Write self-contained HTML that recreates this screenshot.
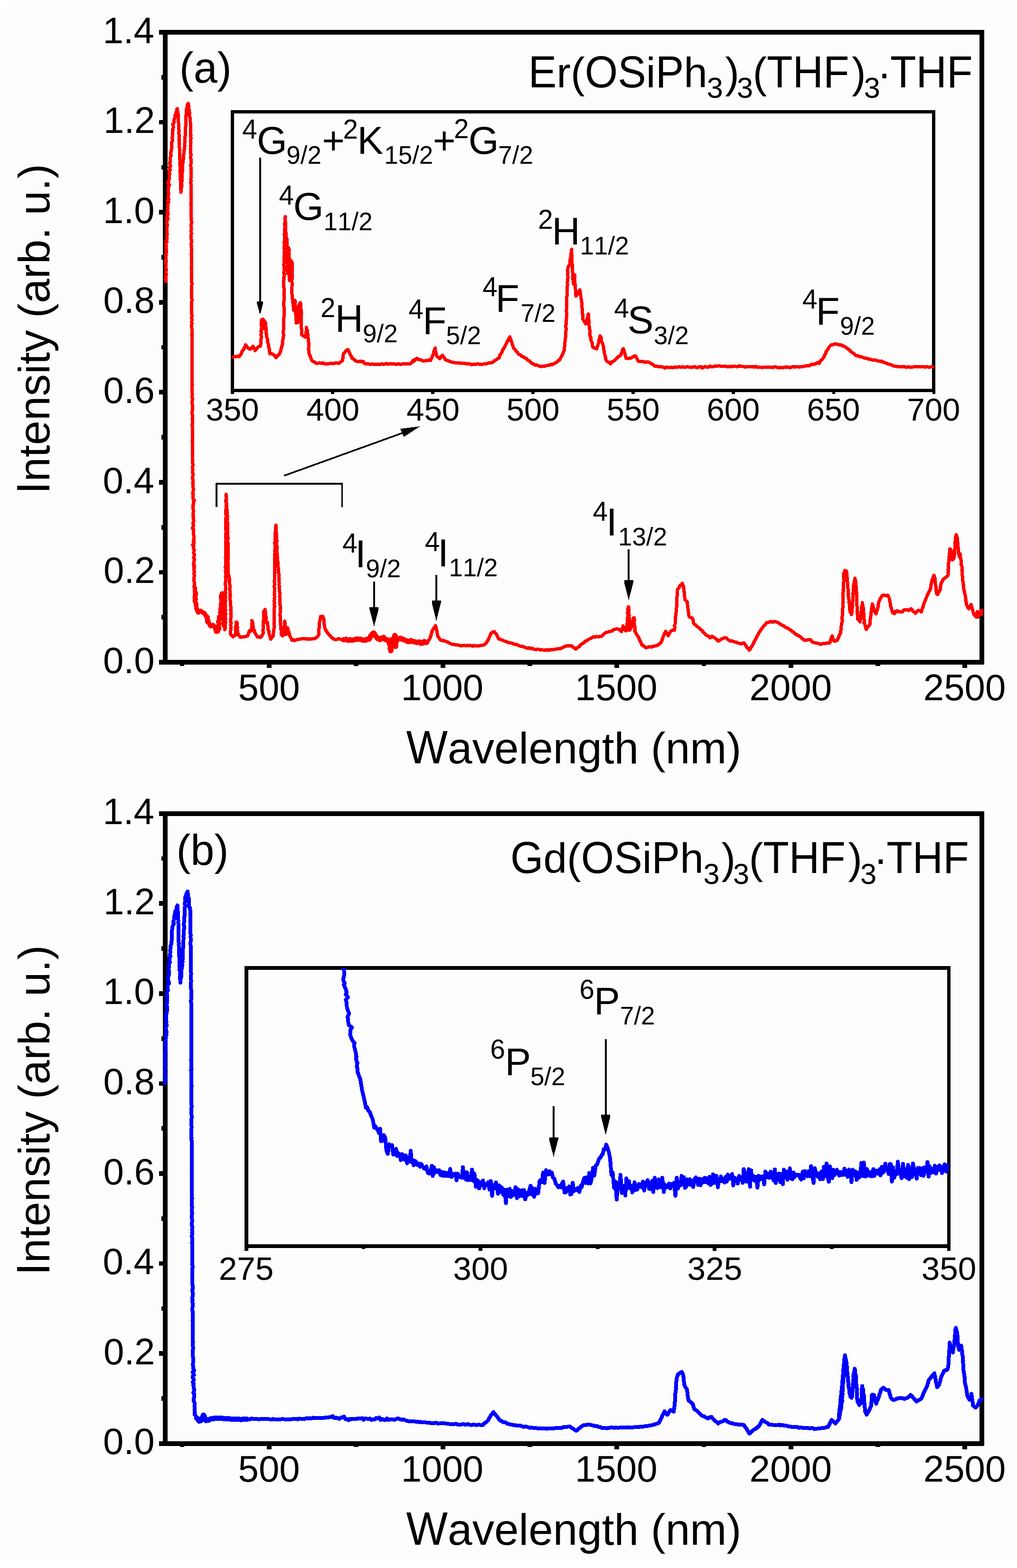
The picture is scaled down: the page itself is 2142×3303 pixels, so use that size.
<!DOCTYPE html>
<html><head><meta charset="utf-8"><title>Absorption spectra</title>
<style>html,body{margin:0;padding:0;background:#ffffff;}svg{display:block;}</style>
</head><body>
<svg width="2142" height="3303" viewBox="0 0 2142 3303" font-family="'Liberation Sans', Arial, Helvetica, sans-serif" shape-rendering="crispEdges" style="font-kerning:none">
<rect x="0" y="0" width="2142" height="3303" fill="#ffffff"/>
<rect x="6" y="12" width="2136" height="3272" fill="#fdfdfd"/>
<rect x="347.75" y="68.00" width="1720.55" height="1327.00" fill="none" stroke="#000" stroke-width="9.7"/>
<rect x="335.1" y="1390.2" width="12.6" height="9.7" fill="#000"/>
<text x="217.1" y="1417.6" font-size="78">0.0</text>
<rect x="340.3" y="1295.4" width="7.4" height="9.7" fill="#000"/>
<rect x="335.1" y="1200.6" width="12.6" height="9.7" fill="#000"/>
<text x="218.0" y="1228.0" font-size="78">0.2</text>
<rect x="340.3" y="1105.8" width="7.4" height="9.7" fill="#000"/>
<rect x="335.1" y="1011.0" width="12.6" height="9.7" fill="#000"/>
<text x="216.4" y="1038.5" font-size="78">0.4</text>
<rect x="340.3" y="916.2" width="7.4" height="9.7" fill="#000"/>
<rect x="335.1" y="821.4" width="12.6" height="9.7" fill="#000"/>
<text x="217.5" y="848.9" font-size="78">0.6</text>
<rect x="340.3" y="726.6" width="7.4" height="9.7" fill="#000"/>
<rect x="335.1" y="631.9" width="12.6" height="9.7" fill="#000"/>
<text x="217.5" y="659.3" font-size="78">0.8</text>
<rect x="340.3" y="537.1" width="7.4" height="9.7" fill="#000"/>
<rect x="335.1" y="442.3" width="12.6" height="9.7" fill="#000"/>
<text x="217.1" y="469.7" font-size="78">1.0</text>
<rect x="340.3" y="347.5" width="7.4" height="9.7" fill="#000"/>
<rect x="335.1" y="252.7" width="12.6" height="9.7" fill="#000"/>
<text x="218.0" y="280.2" font-size="78">1.2</text>
<rect x="340.3" y="157.9" width="7.4" height="9.7" fill="#000"/>
<rect x="335.1" y="63.1" width="12.6" height="9.7" fill="#000"/>
<text x="216.4" y="90.6" font-size="78">1.4</text>
<rect x="378.5" y="1395.0" width="9.8" height="7.6" fill="#000"/>
<rect x="561.7" y="1395.0" width="9.8" height="11.8" fill="#000"/>
<text x="501.5" y="1475.3" font-size="78">500</text>
<rect x="744.9" y="1395.0" width="9.8" height="7.6" fill="#000"/>
<rect x="928.1" y="1395.0" width="9.8" height="11.8" fill="#000"/>
<text x="844.7" y="1475.3" font-size="78">1000</text>
<rect x="1111.2" y="1395.0" width="9.8" height="7.6" fill="#000"/>
<rect x="1294.4" y="1395.0" width="9.8" height="11.8" fill="#000"/>
<text x="1211.1" y="1475.3" font-size="78">1500</text>
<rect x="1477.6" y="1395.0" width="9.8" height="7.6" fill="#000"/>
<rect x="1660.8" y="1395.0" width="9.8" height="11.8" fill="#000"/>
<text x="1578.5" y="1475.3" font-size="78">2000</text>
<rect x="1843.9" y="1395.0" width="9.8" height="7.6" fill="#000"/>
<rect x="2027.1" y="1395.0" width="9.8" height="11.8" fill="#000"/>
<text x="1944.8" y="1475.3" font-size="78">2500</text>
<text transform="translate(855.6,1607.8) scale(1,1.06)" x="0" y="0" font-size="92.7">W</text>
<text x="943.1" y="1607.8" font-size="92.7">avelength (nm)</text>
<g transform="translate(104.2,1032.0) rotate(-90)">
<text transform="translate(-8.6,0.0) scale(1,1.055)" x="0" y="0" font-size="92.7">I</text>
<text x="17.2" y="0.0" font-size="92.7">ntensity (arb. u.)</text>
</g>
<rect x="347.75" y="1713.70" width="1720.55" height="1327.00" fill="none" stroke="#000" stroke-width="9.7"/>
<rect x="335.1" y="3035.8" width="12.6" height="9.7" fill="#000"/>
<text x="217.1" y="3063.3" font-size="78">0.0</text>
<rect x="340.3" y="2941.1" width="7.4" height="9.7" fill="#000"/>
<rect x="335.1" y="2846.3" width="12.6" height="9.7" fill="#000"/>
<text x="218.0" y="2873.7" font-size="78">0.2</text>
<rect x="340.3" y="2751.5" width="7.4" height="9.7" fill="#000"/>
<rect x="335.1" y="2656.7" width="12.6" height="9.7" fill="#000"/>
<text x="216.4" y="2684.2" font-size="78">0.4</text>
<rect x="340.3" y="2561.9" width="7.4" height="9.7" fill="#000"/>
<rect x="335.1" y="2467.1" width="12.6" height="9.7" fill="#000"/>
<text x="217.5" y="2494.6" font-size="78">0.6</text>
<rect x="340.3" y="2372.3" width="7.4" height="9.7" fill="#000"/>
<rect x="335.1" y="2277.6" width="12.6" height="9.7" fill="#000"/>
<text x="217.5" y="2305.0" font-size="78">0.8</text>
<rect x="340.3" y="2182.8" width="7.4" height="9.7" fill="#000"/>
<rect x="335.1" y="2088.0" width="12.6" height="9.7" fill="#000"/>
<text x="217.1" y="2115.4" font-size="78">1.0</text>
<rect x="340.3" y="1993.2" width="7.4" height="9.7" fill="#000"/>
<rect x="335.1" y="1898.4" width="12.6" height="9.7" fill="#000"/>
<text x="218.0" y="1925.9" font-size="78">1.2</text>
<rect x="340.3" y="1803.6" width="7.4" height="9.7" fill="#000"/>
<rect x="335.1" y="1708.8" width="12.6" height="9.7" fill="#000"/>
<text x="216.4" y="1736.3" font-size="78">1.4</text>
<rect x="378.5" y="3040.7" width="9.8" height="7.7" fill="#000"/>
<rect x="561.7" y="3040.7" width="9.8" height="11.8" fill="#000"/>
<text x="501.5" y="3121.0" font-size="78">500</text>
<rect x="744.9" y="3040.7" width="9.8" height="7.7" fill="#000"/>
<rect x="928.1" y="3040.7" width="9.8" height="11.8" fill="#000"/>
<text x="844.7" y="3121.0" font-size="78">1000</text>
<rect x="1111.2" y="3040.7" width="9.8" height="7.7" fill="#000"/>
<rect x="1294.4" y="3040.7" width="9.8" height="11.8" fill="#000"/>
<text x="1211.1" y="3121.0" font-size="78">1500</text>
<rect x="1477.6" y="3040.7" width="9.8" height="7.7" fill="#000"/>
<rect x="1660.8" y="3040.7" width="9.8" height="11.8" fill="#000"/>
<text x="1578.5" y="3121.0" font-size="78">2000</text>
<rect x="1843.9" y="3040.7" width="9.8" height="7.7" fill="#000"/>
<rect x="2027.1" y="3040.7" width="9.8" height="11.8" fill="#000"/>
<text x="1944.8" y="3121.0" font-size="78">2500</text>
<text transform="translate(855.6,3253.5) scale(1,1.06)" x="0" y="0" font-size="92.7">W</text>
<text x="943.1" y="3253.5" font-size="92.7">avelength (nm)</text>
<g transform="translate(104.2,2677.7) rotate(-90)">
<text transform="translate(-8.6,0.0) scale(1,1.055)" x="0" y="0" font-size="92.7">I</text>
<text x="17.2" y="0.0" font-size="92.7">ntensity (arb. u.)</text>
</g>
<text x="377.8" y="174.1" font-size="90">(a)</text>
<text x="371.4" y="1821.5" font-size="90">(b)</text>
<text transform="translate(1112.8,183.6) scale(1,1.055)" x="0" y="0" font-size="89.3">E</text>
<text x="1172.3" y="183.6" font-size="89.3">r(</text>
<text transform="translate(1231.8,183.6) scale(1,1.055)" x="0" y="0" font-size="89.3">O</text>
<text transform="translate(1301.3,183.6) scale(1,1.055)" x="0" y="0" font-size="89.3">S</text>
<text x="1360.8" y="183.6" font-size="89.3">i</text>
<text transform="translate(1380.7,183.6) scale(1,1.055)" x="0" y="0" font-size="89.3">P</text>
<text x="1440.2" y="183.6" font-size="89.3">h</text>
<text x="1488.8" y="206.2" font-size="61.3">3</text>
<text x="1527.2" y="183.6" font-size="89.3">)</text>
<text x="1552.0" y="206.2" font-size="61.3">3</text>
<text x="1585.4" y="183.6" font-size="89.3">(</text>
<text transform="translate(1615.1,183.6) scale(1,1.055)" x="0" y="0" font-size="89.3">T</text>
<text transform="translate(1669.6,183.6) scale(1,1.055)" x="0" y="0" font-size="89.3">H</text>
<text transform="translate(1734.1,183.6) scale(1,1.055)" x="0" y="0" font-size="89.3">F</text>
<text x="1794.1" y="183.6" font-size="89.3">)</text>
<text x="1819.7" y="206.2" font-size="61.3">3</text>
<text x="1847.8" y="183.6" font-size="89.3">·</text>
<text transform="translate(1875.1,183.6) scale(1,1.055)" x="0" y="0" font-size="89.3">T</text>
<text transform="translate(1929.6,183.6) scale(1,1.055)" x="0" y="0" font-size="89.3">H</text>
<text transform="translate(1994.1,183.6) scale(1,1.055)" x="0" y="0" font-size="89.3">F</text>
<text transform="translate(1074.9,1838.6) scale(1,1.055)" x="0" y="0" font-size="89.3">G</text>
<text x="1144.4" y="1838.6" font-size="89.3">d(</text>
<text transform="translate(1223.8,1838.6) scale(1,1.055)" x="0" y="0" font-size="89.3">O</text>
<text transform="translate(1293.2,1838.6) scale(1,1.055)" x="0" y="0" font-size="89.3">S</text>
<text x="1352.8" y="1838.6" font-size="89.3">i</text>
<text transform="translate(1372.6,1838.6) scale(1,1.055)" x="0" y="0" font-size="89.3">P</text>
<text x="1432.2" y="1838.6" font-size="89.3">h</text>
<text x="1481.5" y="1862.1" font-size="61.3">3</text>
<text x="1519.4" y="1838.6" font-size="89.3">)</text>
<text x="1543.9" y="1862.1" font-size="61.3">3</text>
<text x="1577.6" y="1838.6" font-size="89.3">(</text>
<text transform="translate(1607.3,1838.6) scale(1,1.055)" x="0" y="0" font-size="89.3">T</text>
<text transform="translate(1661.8,1838.6) scale(1,1.055)" x="0" y="0" font-size="89.3">H</text>
<text transform="translate(1726.3,1838.6) scale(1,1.055)" x="0" y="0" font-size="89.3">F</text>
<text x="1786.3" y="1838.6" font-size="89.3">)</text>
<text x="1811.9" y="1862.1" font-size="61.3">3</text>
<text x="1840.0" y="1838.6" font-size="89.3">·</text>
<text transform="translate(1867.3,1838.6) scale(1,1.055)" x="0" y="0" font-size="89.3">T</text>
<text transform="translate(1921.8,1838.6) scale(1,1.055)" x="0" y="0" font-size="89.3">H</text>
<text transform="translate(1986.3,1838.6) scale(1,1.055)" x="0" y="0" font-size="89.3">F</text>
<polyline points="349.1,593.0 350.0,590.5 348.4,588.0 349.9,585.4 349.0,582.9 349.1,580.4 350.7,577.9 349.5,575.4 349.4,572.9 350.0,570.3 350.3,567.8 349.5,565.3 350.0,562.8 349.0,560.3 349.5,557.8 349.5,555.2 348.9,552.7 348.8,550.2 348.8,547.7 349.8,545.2 349.9,542.7 349.9,540.1 350.2,537.6 349.2,535.1 350.2,532.6 350.5,530.1 350.9,527.6 349.8,525.0 350.2,522.5 349.0,520.0 350.2,517.5 349.1,514.9 349.7,512.4 351.6,509.8 349.4,507.3 351.6,504.8 351.3,502.2 351.0,499.7 351.6,497.1 351.8,494.6 352.2,492.0 351.4,489.5 351.2,487.0 351.3,484.4 351.1,481.9 351.9,479.3 351.4,476.8 352.8,474.2 350.8,471.7 351.5,469.2 351.7,466.6 350.9,464.1 353.9,461.5 350.9,459.0 352.5,456.4 352.4,453.9 354.1,451.3 351.6,448.7 353.9,446.2 352.7,443.6 353.2,441.0 353.0,438.5 354.0,435.9 352.8,433.3 353.7,430.8 354.1,428.2 355.3,425.7 352.3,423.1 355.3,420.5 355.0,418.0 354.0,415.4 354.7,412.8 354.2,410.3 355.9,407.7 354.9,405.1 354.7,402.6 354.8,400.0 355.0,397.4 355.1,394.8 354.7,392.1 357.0,389.5 354.2,386.9 353.2,384.2 355.8,381.6 355.9,379.0 356.4,376.4 356.1,373.8 356.3,371.1 356.7,368.5 357.3,365.9 356.4,363.2 356.6,360.6 358.4,358.0 357.6,355.5 356.7,352.9 359.4,350.4 358.5,347.8 357.7,345.3 357.5,342.7 358.8,340.2 358.2,337.6 358.3,335.1 358.3,332.5 359.1,330.0 360.5,327.2 359.7,324.4 359.2,321.6 361.0,318.8 360.8,316.0 361.6,313.2 362.1,310.4 361.4,307.6 361.6,305.1 361.9,302.6 361.4,300.1 362.9,297.6 363.6,295.1 363.0,292.5 362.9,290.0 363.1,287.5 363.0,285.0 363.2,282.5 363.7,280.0 363.6,277.4 364.1,274.9 363.5,272.3 365.1,269.8 365.1,267.2 364.5,264.7 363.9,262.1 365.8,259.6 366.8,257.0 366.5,253.5 367.7,250.0 368.1,247.5 369.5,245.0 368.8,242.5 370.7,240.0 370.4,237.0 372.0,234.0 372.0,231.0 373.5,229.0 373.5,231.8 374.1,234.5 374.6,237.2 375.2,240.0 375.2,242.5 375.0,245.0 375.5,247.5 375.8,250.0 375.6,252.5 375.6,255.0 375.8,257.5 376.2,260.0 376.3,262.5 376.0,265.0 376.5,267.5 376.4,270.0 376.4,272.5 377.1,275.0 377.0,277.5 376.7,280.0 377.0,282.5 377.2,285.0 377.0,287.5 377.2,290.0 377.5,292.5 376.9,295.0 377.6,297.5 377.8,300.0 377.9,302.5 377.4,305.0 378.0,307.5 377.7,310.0 378.2,312.5 378.3,315.0 378.3,317.5 378.1,320.0 378.2,322.5 378.7,325.0 378.3,327.5 378.7,330.0 378.8,332.5 378.7,335.0 379.5,337.5 378.9,340.0 379.6,342.5 378.4,345.0 378.5,347.5 379.5,350.0 379.5,352.5 379.3,355.0 379.4,357.5 378.9,360.0 379.4,362.5 379.4,365.0 379.7,367.5 380.1,370.0 379.9,372.5 380.1,375.0 379.9,377.5 380.0,380.0 380.3,382.5 380.2,385.0 380.8,387.5 380.2,390.0 381.2,392.5 380.4,395.0 381.1,397.5 380.6,400.0 381.4,402.5 381.0,405.0 381.5,402.5 382.0,400.0 381.9,397.5 382.2,395.0 382.0,392.5 383.1,390.0 382.6,387.5 382.8,385.0 383.0,382.5 383.7,380.0 382.7,377.5 383.4,375.0 383.3,372.5 383.7,370.0 383.1,367.5 383.7,365.0 384.1,362.5 384.5,360.0 384.7,357.5 384.2,355.0 384.6,352.5 384.8,350.0 384.6,347.5 384.8,345.0 385.7,342.5 385.7,340.0 385.8,337.5 386.4,335.0 386.0,332.5 386.7,330.0 386.7,327.5 387.0,325.0 387.4,322.5 387.5,320.0 387.8,317.6 388.0,315.1 388.8,312.6 388.4,310.1 389.0,307.6 389.0,305.1 388.9,302.6 389.4,300.1 389.0,297.6 389.7,295.1 389.3,292.6 389.5,290.0 389.9,287.5 390.2,285.0 390.4,282.5 390.5,280.0 390.3,277.5 390.2,275.0 390.8,272.5 390.8,270.0 390.6,267.5 391.3,265.0 391.2,262.5 391.0,260.0 391.5,257.5 391.1,255.0 391.4,252.5 391.9,250.0 391.4,247.5 392.0,245.0 391.8,242.3 392.6,239.6 392.4,236.9 392.9,234.1 392.6,231.4 393.2,228.7 393.8,226.0 394.4,223.0 395.0,219.1 396.6,218.0 397.0,220.5 397.0,223.0 398.0,225.5 397.7,228.0 398.2,230.8 398.8,233.7 399.1,236.5 399.4,239.3 398.9,242.2 399.0,245.0 400.1,248.0 400.0,251.0 400.8,254.0 400.9,257.0 401.6,259.5 401.6,262.1 401.6,264.6 401.4,267.1 401.5,269.6 401.4,272.2 401.6,274.7 401.6,277.2 401.7,279.8 401.5,282.3 402.2,284.8 401.7,287.4 402.1,289.9 402.1,292.4 401.5,294.9 401.3,297.5 402.2,300.0 401.7,302.5 401.9,305.0 401.8,307.6 401.9,310.1 401.5,312.6 401.9,315.1 401.8,317.7 401.9,320.2 401.3,322.7 402.2,325.2 402.1,327.7 401.5,330.3 401.8,332.8 402.1,335.3 402.2,337.8 402.1,340.3 402.5,342.9 402.1,345.4 401.8,347.9 401.9,350.4 402.4,353.0 402.0,355.5 402.5,358.0 402.5,360.6 402.4,363.1 402.6,365.6 402.2,368.2 402.3,370.8 402.1,373.3 402.1,375.9 401.9,378.4 402.2,380.9 402.0,383.5 401.9,386.1 402.4,388.6 402.5,391.1 402.3,393.7 402.8,396.2 402.7,398.8 402.8,401.4 402.3,403.9 402.0,406.4 402.7,409.0 402.6,411.6 402.7,414.1 402.7,416.6 402.9,419.2 402.5,421.8 402.8,424.3 402.3,426.9 401.9,429.4 402.5,431.9 403.1,434.5 402.2,437.1 403.0,439.6 402.5,442.1 402.6,444.7 402.7,447.2 402.8,449.8 402.5,452.4 402.8,454.9 402.9,457.4 403.1,460.0 402.6,462.5 403.3,465.0 403.4,467.5 403.6,470.0 402.5,472.5 402.9,475.0 402.3,477.5 403.0,480.0 403.1,482.5 402.6,485.0 402.5,487.5 403.0,490.0 403.2,492.5 402.7,495.0 402.9,497.5 402.2,500.0 402.8,502.5 403.1,505.0 403.1,507.5 403.5,510.0 402.7,512.5 402.4,515.0 403.2,517.5 402.9,520.0 403.2,522.5 403.3,525.0 403.3,527.5 403.6,530.0 403.6,532.5 402.7,535.0 403.2,537.5 403.8,540.0 403.1,542.5 403.5,545.0 403.2,547.5 403.1,550.0 403.7,552.5 403.6,555.0 403.2,557.5 403.6,560.0 402.9,562.5 403.1,565.0 403.6,567.5 403.4,570.1 403.1,572.6 403.5,575.1 403.5,577.6 403.8,580.1 403.7,582.6 403.4,585.2 403.3,587.7 403.5,590.2 403.4,592.7 404.0,595.2 404.0,597.8 404.0,600.3 403.7,602.8 403.5,605.3 403.9,607.8 403.5,610.3 403.7,612.9 403.2,615.4 403.6,617.9 404.1,620.4 403.4,622.9 403.3,625.4 403.7,628.0 404.3,630.5 404.2,633.0 403.7,635.5 403.7,638.0 403.8,640.5 403.6,643.0 403.9,645.6 403.8,648.1 403.5,650.6 403.7,653.1 403.9,655.6 403.7,658.1 403.6,660.7 404.3,663.2 404.6,665.7 403.9,668.2 403.9,670.7 404.2,673.2 404.0,675.8 403.8,678.3 404.5,680.8 403.8,683.3 403.9,685.8 404.0,688.4 403.9,690.9 404.1,693.4 404.4,695.9 404.6,698.4 404.4,700.9 404.3,703.5 403.9,706.0 404.3,708.5 404.0,711.0 404.3,713.5 404.6,716.1 404.4,718.6 404.3,721.1 404.1,723.7 404.4,726.2 404.4,728.7 404.1,731.3 404.3,733.8 404.7,736.3 404.0,738.9 404.3,741.4 404.1,743.9 405.0,746.5 404.7,749.0 404.7,751.5 404.7,754.0 404.6,756.6 404.7,759.1 404.1,761.6 404.7,764.2 404.8,766.7 404.2,769.2 404.9,771.8 404.9,774.3 404.2,776.8 404.6,779.4 404.6,781.9 404.6,784.4 404.9,787.0 404.4,789.5 404.7,792.0 404.8,794.6 405.0,797.1 404.8,799.6 404.7,802.2 405.0,804.7 404.3,807.2 405.1,809.8 404.8,812.3 404.5,814.8 404.8,817.4 404.4,819.9 404.3,822.4 404.9,825.0 404.7,827.5 405.2,830.0 404.7,832.5 404.6,835.1 404.7,837.6 405.6,840.1 405.1,842.7 404.9,845.2 404.8,847.7 404.8,850.3 405.1,852.8 405.3,855.3 405.5,857.9 405.5,860.4 405.3,862.9 405.0,865.5 404.9,868.0 404.5,870.5 404.9,873.1 405.4,875.6 405.2,878.2 405.4,880.7 404.9,883.2 405.6,885.8 405.4,888.3 405.4,890.8 405.5,893.4 404.7,895.9 405.2,898.5 405.1,901.0 406.0,903.5 405.4,906.1 405.3,908.6 405.7,911.2 405.2,913.7 405.9,916.2 405.3,918.8 405.5,921.3 405.3,923.8 405.8,926.4 404.9,928.9 405.8,931.5 405.4,934.0 405.6,936.5 405.3,939.1 405.7,941.6 405.7,944.2 405.9,946.7 405.8,949.2 405.9,951.8 406.0,954.3 405.6,956.8 405.4,959.4 405.4,961.9 406.0,964.5 405.7,967.0 406.1,969.5 405.8,972.1 405.5,974.6 406.1,977.2 406.5,979.7 405.8,982.2 405.6,984.8 405.7,987.3 406.2,989.8 405.8,992.4 405.8,994.9 406.2,997.5 406.0,1000.0 406.2,1002.6 405.6,1005.2 405.5,1007.8 406.4,1010.4 406.4,1013.0 406.9,1015.6 405.9,1018.1 406.7,1020.7 406.9,1023.3 406.6,1025.9 407.1,1028.5 407.6,1031.1 406.9,1033.7 406.8,1036.3 405.8,1038.9 407.1,1041.5 406.8,1044.1 406.6,1046.6 406.1,1049.1 407.5,1051.7 409.4,1054.2 407.4,1056.7 407.1,1059.3 407.5,1061.8 406.5,1064.3 407.2,1066.9 406.5,1069.4 406.5,1071.9 407.4,1074.5 407.4,1077.0 407.1,1079.5 406.5,1082.1 407.5,1084.6 406.2,1087.1 408.0,1089.7 407.0,1092.2 407.4,1094.7 408.1,1097.3 407.9,1099.8 406.2,1102.3 407.2,1104.9 407.8,1107.4 406.5,1109.9 405.2,1112.5 407.5,1115.0 407.5,1117.5 408.0,1120.1 407.7,1122.6 407.8,1125.1 407.9,1127.7 409.0,1130.2 408.2,1132.7 408.3,1135.3 407.4,1137.8 408.9,1140.3 407.6,1142.9 408.5,1145.4 405.8,1147.9 408.1,1150.5 407.8,1153.0 407.5,1155.5 409.2,1158.0 408.4,1160.5 408.0,1163.0 407.6,1165.5 410.0,1168.0 409.0,1170.5 408.9,1173.0 407.6,1175.5 409.7,1178.0 409.0,1180.5 408.3,1183.0 408.5,1185.5 407.1,1188.0 409.3,1190.5 407.7,1193.0 409.6,1195.5 408.4,1198.0 408.3,1200.5 409.3,1203.0 409.2,1205.5 408.0,1208.0 409.1,1210.5 409.8,1213.0 409.0,1215.5 408.0,1218.0 409.1,1220.5 408.5,1223.0 408.9,1225.5 409.6,1228.1 409.7,1230.7 409.6,1233.3 408.3,1235.9 410.4,1238.5 410.0,1241.1 409.9,1243.7 410.5,1246.3 412.3,1248.9 409.4,1251.5 409.2,1254.1 411.6,1256.6 410.2,1259.2 412.3,1261.8 410.2,1264.4 410.8,1267.0 412.5,1269.6 413.0,1272.2 413.0,1274.8 413.5,1277.4 413.3,1280.0 413.9,1281.9 415.2,1284.4 416.5,1288.9 417.8,1290.2 420.4,1287.8 423.0,1287.0 425.5,1289.1 428.1,1290.9 430.1,1291.4 432.0,1294.2 433.6,1297.3 437.1,1300.3 436.1,1303.3 438.1,1306.2 436.4,1309.1 439.6,1312.1 439.8,1312.7 441.7,1315.8 443.7,1319.1 446.3,1318.0 448.9,1316.6 450.8,1318.8 453.0,1320.2 453.6,1323.4 455.4,1330.8 459.1,1329.7 459.7,1327.1 461.4,1324.4 460.7,1321.7 460.7,1319.0 460.9,1316.3 462.6,1313.4 460.0,1310.6 460.4,1307.7 461.7,1304.9 461.8,1298.8 463.7,1303.3 465.6,1300.8 464.2,1298.2 465.0,1295.7 465.6,1293.2 463.9,1290.7 465.4,1288.1 464.7,1285.6 464.4,1283.1 465.3,1280.5 465.6,1278.0 465.4,1275.5 465.3,1272.9 466.9,1270.4 467.3,1267.9 466.8,1265.3 466.3,1262.8 465.5,1260.3 465.9,1257.8 465.7,1255.2 467.1,1252.7 467.9,1250.2 468.0,1252.7 467.2,1255.2 467.0,1257.7 467.7,1260.2 467.8,1262.7 468.3,1265.3 469.3,1267.8 467.4,1270.3 470.1,1272.8 466.2,1275.3 466.7,1277.8 467.0,1280.4 467.6,1282.9 468.5,1285.4 470.8,1287.9 468.3,1290.4 470.1,1292.9 468.9,1295.5 469.6,1298.1 468.7,1300.7 472.0,1303.3 470.0,1305.9 470.0,1308.5 471.0,1311.1 470.6,1313.7 470.9,1316.3 470.9,1318.9 470.7,1316.3 470.6,1313.8 471.0,1311.2 471.6,1308.7 471.3,1306.2 471.2,1303.6 471.6,1301.1 471.1,1298.5 471.8,1296.0 471.4,1293.5 471.2,1290.9 471.7,1288.4 471.7,1285.8 471.5,1283.3 471.8,1280.8 472.0,1278.2 472.2,1275.7 471.6,1273.1 471.1,1270.6 472.6,1268.0 471.9,1265.5 471.9,1263.0 472.2,1260.4 472.0,1257.9 472.5,1255.3 471.9,1257.9 472.2,1260.4 472.0,1263.0 472.8,1265.5 472.4,1268.1 472.8,1270.6 472.9,1273.2 472.2,1275.7 472.6,1278.3 472.9,1280.8 472.7,1283.4 472.7,1285.9 473.1,1288.4 473.1,1291.0 472.7,1293.5 472.9,1296.1 473.2,1298.6 473.1,1301.2 473.1,1303.7 472.8,1306.3 473.7,1308.8 473.2,1311.4 473.4,1313.9 473.3,1316.5 473.4,1319.0 473.5,1321.5 473.2,1324.1 473.6,1326.6 474.1,1324.0 474.1,1321.5 474.4,1318.9 474.5,1316.3 474.6,1313.7 475.3,1311.1 474.6,1308.6 474.9,1306.0 475.1,1303.5 474.9,1301.0 474.5,1298.5 474.6,1296.0 475.4,1293.4 474.6,1290.9 474.9,1288.4 475.1,1285.9 475.0,1283.4 474.4,1280.8 474.4,1278.3 474.9,1275.8 474.8,1273.3 474.9,1270.8 475.0,1268.2 475.1,1265.7 474.6,1263.2 474.5,1260.7 475.3,1258.2 474.9,1255.6 474.7,1253.1 474.5,1250.6 475.3,1248.1 474.7,1245.6 474.8,1243.1 475.3,1240.5 475.2,1238.0 475.3,1235.5 474.8,1233.0 474.3,1230.5 474.9,1227.9 475.1,1225.4 475.0,1222.9 475.5,1220.4 475.4,1217.9 475.0,1215.3 475.4,1212.8 475.2,1210.3 475.2,1207.8 475.6,1205.3 474.8,1202.7 475.6,1200.2 475.7,1197.7 474.7,1195.2 475.3,1192.7 475.3,1190.1 475.1,1187.6 475.2,1185.1 475.2,1182.6 475.5,1180.1 475.3,1177.5 474.8,1175.0 475.8,1172.5 475.7,1170.0 475.2,1167.5 475.8,1164.9 476.1,1162.4 475.1,1159.9 475.4,1157.4 475.4,1154.9 475.7,1152.3 475.5,1149.8 475.2,1147.3 476.0,1144.8 475.5,1142.3 475.8,1139.7 476.3,1137.2 475.4,1134.7 475.5,1132.2 475.9,1129.7 475.7,1127.1 475.9,1124.6 475.7,1122.1 476.6,1119.6 475.9,1117.1 475.9,1114.5 475.8,1112.0 475.9,1109.5 475.3,1107.0 475.7,1104.5 476.0,1101.9 475.5,1099.4 475.8,1096.9 475.8,1094.4 475.7,1091.9 476.6,1089.4 476.1,1086.8 476.0,1084.3 475.7,1081.8 475.9,1079.3 475.8,1076.8 475.9,1074.2 476.0,1071.7 476.7,1069.2 476.4,1066.7 476.5,1064.2 476.4,1061.6 476.9,1059.1 475.8,1056.6 475.7,1054.1 476.1,1051.6 476.1,1049.0 476.1,1046.5 475.9,1044.0 476.3,1041.5 476.8,1044.1 476.5,1046.7 476.5,1049.3 477.1,1051.8 476.8,1054.4 476.9,1057.0 477.3,1059.6 476.6,1062.2 478.0,1064.8 477.6,1067.4 477.9,1070.0 478.0,1072.6 478.2,1075.2 477.8,1077.8 478.9,1080.4 478.7,1083.0 478.8,1085.5 479.7,1088.1 478.5,1090.7 479.1,1093.3 479.0,1095.9 478.6,1098.5 479.7,1101.1 478.8,1103.7 479.3,1106.3 479.4,1108.9 479.5,1111.5 479.2,1114.1 480.0,1116.7 479.8,1119.2 479.4,1121.8 479.5,1124.4 480.0,1127.0 479.6,1129.6 480.1,1132.1 480.1,1134.6 479.9,1137.1 479.5,1139.7 479.7,1142.2 480.2,1144.7 480.0,1147.2 480.7,1149.7 480.0,1152.2 480.3,1154.7 480.4,1157.2 480.2,1159.7 480.3,1162.2 480.5,1164.7 480.2,1167.2 480.4,1169.8 480.2,1172.3 480.9,1174.8 480.4,1177.3 480.6,1179.8 479.4,1182.3 480.2,1184.8 480.0,1187.3 480.4,1189.8 480.3,1192.3 480.1,1194.8 480.4,1197.4 480.7,1199.9 480.8,1202.4 480.3,1204.9 480.8,1207.4 481.1,1210.0 482.2,1212.6 482.0,1215.2 482.8,1217.8 483.4,1220.3 482.9,1222.9 483.6,1225.5 483.0,1228.1 483.5,1230.7 484.7,1233.3 484.0,1235.9 484.2,1238.5 483.7,1241.1 484.3,1243.7 484.1,1246.3 484.8,1248.9 484.4,1251.5 485.4,1254.1 484.4,1256.6 485.0,1259.2 484.4,1261.8 485.0,1264.4 485.5,1267.0 485.3,1269.6 485.0,1272.2 485.7,1274.8 486.0,1277.4 486.0,1280.0 486.2,1282.6 485.7,1285.2 486.8,1287.8 486.6,1290.3 485.8,1292.9 487.0,1295.5 486.3,1298.1 486.5,1300.7 485.8,1303.3 486.1,1305.9 485.7,1308.5 486.5,1311.1 486.2,1313.7 485.9,1316.3 486.1,1318.9 486.5,1321.5 485.9,1324.0 486.2,1326.6 485.7,1329.2 485.5,1331.8 485.8,1334.4 485.9,1336.9 488.2,1339.0 490.4,1341.4 492.9,1339.4 495.4,1338.3 496.0,1335.6 496.1,1332.9 496.1,1330.1 496.4,1327.4 495.9,1324.7 496.6,1322.0 496.5,1319.2 497.1,1316.5 497.7,1313.8 497.6,1310.2 499.4,1311.1 499.2,1313.7 499.5,1316.3 499.7,1318.9 500.2,1321.5 500.0,1324.0 499.8,1326.6 500.7,1329.2 500.8,1331.8 501.2,1334.4 501.2,1337.3 503.6,1339.0 505.9,1342.3 508.5,1342.1 511.1,1341.8 513.7,1341.7 516.3,1341.1 518.9,1340.0 521.4,1339.6 522.7,1337.0 523.1,1334.4 524.4,1331.8 525.4,1328.7 528.9,1329.2 529.4,1326.5 529.8,1323.7 530.5,1321.0 530.2,1318.2 530.8,1315.5 531.0,1312.7 531.1,1309.9 530.4,1307.2 531.8,1310.0 532.2,1312.8 532.3,1315.6 533.1,1318.4 533.9,1321.2 533.6,1324.0 534.7,1326.6 536.0,1329.2 536.1,1331.8 537.5,1333.9 539.1,1336.7 540.6,1339.2 542.2,1341.5 544.8,1341.5 547.4,1342.6 550.0,1341.9 551.9,1338.0 553.8,1335.7 554.2,1333.2 554.2,1330.7 553.6,1328.1 554.4,1325.6 554.1,1323.1 554.4,1320.6 555.0,1318.0 554.6,1315.5 554.5,1313.0 554.8,1310.5 554.7,1307.9 555.6,1305.4 555.4,1302.9 555.5,1300.4 555.1,1297.8 555.2,1295.3 555.6,1292.8 554.9,1290.3 555.7,1288.3 558.2,1283.9 558.8,1286.6 559.1,1289.3 559.0,1292.0 559.6,1294.8 559.9,1297.5 560.5,1300.2 560.3,1302.9 560.9,1305.6 560.8,1308.4 560.9,1311.0 563.2,1311.1 563.2,1313.7 563.8,1316.3 564.3,1318.9 564.8,1321.5 565.0,1324.0 564.8,1326.6 566.1,1329.2 566.1,1331.8 566.8,1334.7 567.5,1337.5 568.7,1340.4 569.5,1343.2 570.2,1346.4 572.4,1343.4 575.1,1340.9 575.0,1338.1 575.6,1335.3 576.0,1332.5 576.7,1329.7 576.6,1326.9 577.1,1324.0 577.2,1321.5 577.1,1318.9 577.1,1316.3 577.0,1313.7 577.7,1311.1 577.9,1308.5 577.2,1305.9 577.8,1303.3 577.3,1300.7 577.4,1298.1 577.6,1295.5 577.8,1292.9 578.0,1290.3 577.3,1287.8 577.5,1285.2 578.0,1282.6 577.9,1280.1 578.7,1277.6 577.9,1275.1 577.9,1272.5 578.4,1270.0 577.3,1267.5 577.5,1265.0 578.9,1262.5 577.9,1260.0 578.2,1257.5 578.1,1255.0 577.9,1252.5 578.2,1250.0 577.8,1247.5 578.5,1245.0 578.5,1242.5 578.5,1240.0 578.0,1237.5 577.7,1235.0 578.2,1232.5 578.0,1230.0 578.5,1227.5 577.9,1225.0 578.1,1222.5 578.5,1220.0 578.6,1217.5 578.5,1214.9 578.1,1212.4 578.3,1209.9 579.1,1207.4 578.8,1204.9 578.3,1202.4 579.1,1199.9 578.5,1197.4 578.6,1194.9 578.4,1192.4 579.1,1189.9 578.7,1187.4 578.6,1184.9 578.4,1182.4 578.3,1179.9 578.8,1177.4 578.7,1174.9 579.2,1172.4 578.5,1169.9 578.7,1167.4 579.1,1164.9 579.1,1162.4 578.6,1159.8 579.3,1157.3 579.0,1154.8 579.2,1152.3 579.0,1149.8 579.2,1147.3 578.8,1144.8 578.9,1142.3 579.3,1139.8 579.1,1137.3 579.1,1134.8 579.5,1132.2 579.5,1129.6 579.7,1127.0 579.1,1124.4 579.8,1121.8 580.4,1119.2 580.1,1116.7 580.4,1114.1 580.8,1111.5 580.9,1108.9 581.3,1106.3 581.4,1108.9 581.3,1111.5 581.8,1114.1 581.5,1116.7 581.6,1119.2 582.0,1121.8 582.3,1124.4 582.2,1127.0 582.0,1129.6 582.3,1132.2 582.7,1134.8 582.9,1137.4 583.3,1140.0 582.8,1142.6 582.9,1145.2 582.4,1147.8 583.5,1150.4 583.4,1152.9 583.2,1155.5 583.1,1158.1 582.6,1160.7 583.7,1163.3 583.3,1165.9 584.1,1168.5 583.9,1171.1 584.3,1173.7 584.2,1176.3 584.8,1178.9 584.3,1181.5 585.4,1184.1 585.2,1186.6 585.1,1189.2 585.6,1191.8 585.7,1194.4 586.3,1197.0 586.2,1199.6 586.2,1202.2 586.7,1204.8 587.0,1207.4 587.2,1210.0 587.5,1212.6 587.8,1215.2 587.6,1217.8 588.1,1220.3 587.0,1222.9 587.8,1225.5 588.2,1228.1 587.6,1230.7 588.1,1233.3 588.3,1235.9 587.9,1238.5 588.3,1241.1 588.8,1243.7 588.6,1246.3 589.3,1248.9 589.7,1251.5 589.1,1254.1 588.9,1256.6 589.4,1259.2 589.3,1261.8 589.1,1264.4 589.5,1267.0 589.6,1269.6 589.7,1272.2 590.1,1274.8 590.2,1277.4 590.1,1280.0 590.0,1282.6 590.3,1285.2 590.2,1287.8 590.3,1290.3 589.9,1292.9 589.3,1295.5 590.6,1298.1 590.1,1300.7 590.2,1303.3 590.4,1305.9 590.4,1308.5 590.3,1311.1 591.1,1313.7 590.9,1316.3 591.2,1318.9 591.1,1321.5 591.6,1324.0 592.0,1326.6 592.0,1329.2 592.4,1331.8 592.2,1334.4 592.8,1337.2 595.0,1339.6 595.6,1337.0 596.0,1334.4 596.7,1331.8 597.4,1329.2 597.6,1326.6 597.7,1324.0 598.3,1321.5 598.9,1318.9 599.2,1316.3 599.5,1313.7 599.3,1311.1 599.8,1308.5 600.0,1311.1 600.3,1313.7 600.7,1316.3 600.9,1318.9 601.0,1321.5 601.5,1324.0 601.3,1326.6 601.6,1329.2 602.0,1331.8 601.7,1334.4 602.1,1337.0 602.6,1334.2 603.4,1331.3 604.3,1328.5 605.0,1325.6 605.8,1322.7 606.6,1325.6 606.9,1328.5 608.6,1331.3 609.2,1334.2 609.2,1337.0 610.4,1339.3 611.5,1341.7 612.8,1344.0 613.9,1346.3 614.8,1348.7 617.4,1347.1 620.0,1349.4 622.6,1348.1 625.2,1347.8 627.8,1346.5 630.3,1346.4 632.9,1346.3 635.5,1345.1 638.1,1345.3 640.7,1345.1 643.3,1346.1 645.9,1345.6 648.5,1346.6 651.1,1345.3 653.7,1346.5 656.3,1345.8 658.9,1345.1 661.5,1345.6 664.0,1344.6 666.2,1343.0 668.4,1340.9 670.8,1338.3 671.4,1335.6 671.5,1332.9 672.0,1330.1 671.8,1327.4 671.9,1324.7 672.2,1322.0 672.3,1319.2 672.2,1316.5 672.9,1313.8 672.8,1311.1 673.6,1308.5 674.1,1305.9 674.5,1303.3 674.9,1300.7 675.7,1298.2 679.6,1298.1 680.9,1300.7 681.5,1303.3 682.5,1305.9 682.3,1308.5 682.7,1311.1 682.7,1313.7 683.1,1316.3 683.9,1318.9 683.9,1321.5 684.3,1324.0 685.7,1326.0 687.1,1329.3 688.5,1330.8 690.0,1333.7 691.6,1335.0 693.2,1337.5 694.8,1338.5 696.4,1340.2 698.6,1343.2 700.8,1344.0 702.9,1346.3 705.5,1347.1 708.1,1347.1 710.7,1346.8 713.3,1345.5 715.9,1346.2 718.5,1347.0 721.1,1347.7 723.7,1347.7 726.3,1347.6 728.9,1346.6 731.6,1347.7 734.4,1349.0 737.2,1347.5 740.0,1348.1 743.0,1348.4 745.9,1347.8 748.5,1346.9 751.1,1346.7 753.7,1346.0 756.3,1347.0 758.9,1346.6 761.5,1347.7 764.3,1348.3 767.2,1348.0 770.0,1348.9 772.9,1346.6 775.7,1346.3 777.4,1346.7 779.0,1344.1 780.6,1339.8 782.2,1338.6 784.8,1334.8 787.4,1333.3 788.7,1335.9 790.0,1338.8 791.3,1339.2 792.6,1341.1 795.2,1344.9 797.8,1345.9 800.4,1347.2 803.0,1344.3 805.5,1344.3 808.1,1342.7 810.7,1347.0 813.3,1347.6 816.6,1348.0 819.6,1348.9 819.0,1351.6 819.8,1354.4 820.7,1357.1 822.5,1359.9 822.3,1362.6 821.8,1365.4 822.8,1368.1 823.2,1370.9 823.5,1368.1 822.9,1365.4 823.4,1362.6 824.5,1359.9 824.6,1357.1 824.3,1354.4 826.2,1351.6 825.0,1349.1 826.9,1346.5 829.4,1345.0 830.7,1341.7 831.4,1338.5 832.7,1341.1 832.5,1343.7 832.1,1346.3 832.7,1348.9 832.9,1351.5 832.5,1354.1 833.3,1356.6 832.8,1359.2 833.1,1361.8 834.0,1359.0 833.2,1356.2 834.1,1353.4 834.1,1350.6 835.4,1347.8 835.4,1344.4 838.6,1346.1 841.8,1345.2 844.4,1344.3 847.0,1346.4 849.6,1347.2 852.2,1348.1 854.8,1349.3 857.4,1350.6 860.0,1351.8 862.6,1352.0 865.2,1349.4 867.8,1350.7 870.4,1351.5 872.9,1351.9 875.5,1352.9 878.1,1353.4 880.7,1352.3 883.3,1352.2 885.9,1355.1 888.5,1353.4 891.1,1354.5 893.7,1351.5 896.3,1353.0 898.9,1353.0 901.5,1351.6 903.0,1348.2 904.6,1346.4 905.9,1343.7 906.5,1341.1 907.6,1338.5 908.5,1335.9 909.0,1333.3 909.8,1330.7 910.5,1328.4 912.2,1325.2 913.9,1323.2 915.5,1320.7 917.2,1317.8 918.0,1320.3 918.3,1322.9 919.3,1325.5 920.0,1328.1 920.9,1330.7 920.6,1333.3 921.7,1335.9 921.7,1338.5 922.7,1341.4 924.3,1343.0 925.8,1345.4 927.4,1348.0 930.0,1349.3 932.6,1348.8 935.2,1350.2 937.8,1350.1 940.3,1351.8 942.9,1352.4 945.5,1354.4 948.1,1355.3 950.7,1356.7 953.3,1357.4 955.9,1358.0 958.5,1357.9 961.1,1358.7 963.7,1358.2 966.3,1359.4 968.9,1359.8 971.5,1360.5 974.1,1360.0 976.6,1359.9 979.2,1359.6 981.8,1360.3 984.4,1359.7 987.0,1360.2 989.6,1359.3 992.2,1360.3 994.8,1361.1 997.4,1359.7 1000.0,1360.7 1002.6,1360.5 1005.2,1360.4 1007.8,1360.4 1010.3,1360.0 1012.9,1359.2 1015.5,1359.5 1018.1,1358.3 1020.3,1358.3 1022.4,1355.8 1024.9,1354.1 1025.6,1351.5 1027.7,1348.9 1028.8,1346.3 1029.9,1343.7 1031.2,1341.1 1032.5,1338.5 1033.5,1335.9 1035.0,1333.2 1037.8,1331.7 1040.7,1330.4 1043.0,1333.8 1045.7,1335.9 1046.7,1338.5 1048.1,1341.1 1049.1,1343.7 1050.5,1346.0 1053.8,1346.8 1057.0,1348.2 1059.6,1349.1 1062.2,1350.4 1064.8,1351.1 1067.4,1352.2 1070.0,1353.3 1072.6,1353.9 1075.2,1354.2 1077.7,1354.9 1080.3,1355.7 1082.9,1357.0 1085.5,1357.0 1088.1,1357.5 1090.7,1358.9 1093.3,1360.3 1095.9,1361.1 1098.5,1361.6 1101.1,1361.1 1103.7,1362.8 1106.3,1364.0 1108.9,1365.0 1111.6,1365.9 1114.4,1365.0 1117.2,1366.2 1120.0,1365.7 1116.5,1365.6 1113.0,1364.8 1115.6,1365.9 1118.1,1366.1 1120.7,1365.7 1123.3,1367.0 1125.9,1367.8 1128.5,1368.5 1131.1,1367.7 1133.7,1367.8 1136.3,1368.2 1138.9,1369.2 1141.5,1368.8 1144.1,1369.2 1146.7,1369.6 1149.3,1368.9 1151.8,1369.8 1154.4,1368.4 1157.0,1370.0 1159.6,1368.7 1162.2,1368.5 1164.8,1368.5 1167.4,1367.9 1170.0,1367.6 1172.6,1367.2 1175.2,1366.6 1177.8,1366.6 1180.4,1366.4 1183.0,1364.8 1185.5,1364.1 1188.1,1362.4 1190.7,1361.8 1193.3,1360.4 1195.9,1360.0 1198.5,1360.6 1201.1,1360.5 1203.7,1360.2 1206.0,1362.3 1208.2,1364.3 1210.5,1365.2 1212.8,1367.3 1214.7,1366.1 1216.7,1364.1 1218.6,1362.8 1220.5,1361.8 1222.5,1358.3 1224.4,1357.4 1226.6,1355.5 1228.8,1354.9 1230.9,1352.9 1233.1,1350.5 1235.2,1350.2 1237.4,1348.1 1240.0,1346.7 1242.6,1345.5 1245.2,1344.3 1247.8,1342.5 1250.4,1341.5 1252.9,1342.2 1255.5,1340.9 1258.1,1341.0 1260.7,1341.5 1263.3,1340.5 1265.9,1340.8 1268.0,1339.4 1270.1,1337.1 1272.1,1335.7 1274.2,1333.8 1276.3,1332.5 1278.9,1331.9 1281.5,1331.0 1284.1,1330.4 1286.6,1329.6 1289.2,1329.1 1291.8,1326.7 1294.4,1325.8 1297.0,1325.1 1299.6,1324.8 1302.2,1325.3 1304.8,1326.1 1306.7,1327.9 1308.9,1330.5 1309.5,1328.1 1310.2,1325.6 1311.2,1323.2 1312.2,1320.7 1312.2,1318.3 1313.7,1320.9 1315.1,1323.5 1316.0,1326.1 1317.8,1329.0 1321.0,1327.4 1320.7,1324.8 1321.0,1322.2 1320.1,1319.6 1320.7,1317.0 1320.6,1314.4 1321.3,1311.8 1321.2,1309.2 1321.3,1306.6 1321.6,1304.1 1321.8,1301.5 1322.2,1298.9 1322.2,1296.3 1322.2,1293.7 1321.6,1291.1 1322.6,1288.5 1322.3,1285.9 1322.0,1283.3 1323.3,1280.7 1323.9,1278.1 1324.1,1280.7 1324.5,1283.3 1324.0,1285.9 1324.7,1288.5 1325.0,1291.1 1324.4,1293.7 1325.3,1296.3 1324.8,1298.9 1324.9,1301.5 1325.6,1304.1 1325.4,1306.6 1325.0,1309.2 1325.5,1311.8 1326.1,1314.4 1325.9,1317.0 1326.1,1319.6 1326.5,1322.2 1326.6,1324.8 1326.6,1327.4 1327.8,1324.8 1329.6,1322.2 1331.1,1319.6 1330.4,1316.8 1331.7,1314.0 1332.3,1311.2 1332.2,1308.4 1333.3,1305.6 1333.3,1302.0 1335.7,1301.5 1336.1,1304.2 1336.2,1306.9 1335.1,1309.6 1336.1,1312.3 1336.0,1315.1 1336.6,1317.8 1337.1,1320.5 1337.0,1323.2 1337.5,1326.0 1336.7,1328.7 1338.2,1331.3 1339.6,1333.9 1341.1,1336.8 1342.4,1339.3 1343.7,1340.6 1345.0,1342.8 1346.5,1345.5 1346.9,1347.9 1348.5,1350.2 1349.1,1352.5 1350.4,1354.9 1351.5,1358.2 1353.4,1358.7 1355.3,1360.5 1357.3,1361.7 1359.2,1364.0 1361.8,1364.2 1364.4,1363.5 1367.0,1362.2 1369.6,1362.8 1372.2,1363.2 1374.8,1361.4 1377.4,1361.3 1380.0,1360.4 1382.6,1360.0 1385.2,1359.3 1387.1,1357.5 1389.0,1356.8 1391.0,1354.9 1392.3,1353.3 1393.5,1350.7 1394.4,1348.1 1395.2,1345.5 1396.4,1342.9 1397.2,1340.3 1398.1,1337.9 1399.4,1334.5 1400.7,1332.2 1402.0,1329.8 1403.3,1332.1 1404.6,1334.3 1405.9,1336.4 1407.2,1339.0 1408.8,1337.3 1410.4,1333.5 1412.1,1330.4 1413.7,1328.8 1416.9,1327.6 1420.4,1327.4 1420.7,1324.8 1421.2,1322.2 1421.0,1319.6 1420.8,1317.0 1422.0,1314.4 1422.1,1311.8 1422.5,1309.2 1422.4,1306.6 1422.6,1304.1 1422.9,1301.5 1422.7,1298.9 1423.8,1296.3 1423.6,1293.7 1423.9,1291.1 1424.3,1288.5 1424.1,1285.9 1424.8,1283.3 1424.5,1280.7 1425.6,1278.1 1425.4,1275.5 1425.4,1272.9 1425.5,1270.3 1425.5,1267.8 1425.5,1265.2 1425.3,1262.6 1425.8,1260.0 1425.9,1257.4 1426.2,1254.8 1426.5,1252.2 1426.1,1249.6 1426.5,1247.0 1426.8,1244.4 1427.2,1241.6 1428.7,1239.7 1430.3,1238.0 1431.8,1234.0 1434.4,1231.8 1437.0,1228.9 1438.0,1231.5 1439.3,1234.1 1439.7,1236.6 1440.1,1239.4 1440.2,1242.1 1440.3,1244.8 1441.2,1247.5 1441.1,1250.3 1441.9,1253.0 1441.4,1255.7 1442.2,1258.4 1442.9,1261.1 1442.7,1263.6 1445.0,1266.0 1447.8,1267.8 1447.8,1270.3 1447.8,1272.9 1448.3,1275.5 1448.8,1278.1 1448.8,1280.7 1449.2,1283.3 1449.7,1285.9 1449.6,1288.5 1450.8,1291.1 1450.4,1293.7 1450.9,1296.3 1451.3,1298.9 1454.5,1300.9 1457.6,1301.5 1459.1,1304.1 1459.9,1306.6 1460.3,1309.2 1460.5,1311.8 1461.6,1313.8 1463.9,1315.9 1466.2,1317.8 1468.4,1319.6 1470.7,1321.5 1472.7,1323.1 1474.6,1324.8 1476.5,1326.9 1478.5,1327.7 1480.4,1331.5 1482.4,1332.5 1484.3,1334.5 1486.3,1337.4 1488.9,1338.8 1491.4,1339.7 1494.0,1341.5 1497.0,1341.0 1500.0,1340.7 1497.6,1342.2 1495.2,1343.4 1498.4,1342.4 1501.7,1341.7 1505.6,1343.6 1507.7,1345.8 1509.9,1346.9 1512.0,1350.3 1514.4,1349.9 1516.8,1348.0 1519.2,1346.2 1521.5,1345.6 1523.9,1344.3 1526.3,1343.1 1528.6,1343.4 1531.0,1344.9 1533.3,1347.4 1535.6,1348.9 1538.0,1350.4 1540.9,1349.8 1543.8,1351.2 1546.7,1352.1 1549.6,1352.1 1552.2,1354.1 1554.8,1354.3 1557.4,1355.4 1560.0,1356.3 1562.6,1355.9 1565.2,1354.2 1567.8,1354.6 1569.3,1357.5 1570.7,1359.2 1572.2,1362.4 1573.7,1364.3 1575.2,1366.2 1576.7,1367.4 1578.1,1369.5 1579.6,1367.6 1581.1,1364.6 1582.6,1362.7 1584.1,1360.1 1585.5,1358.0 1587.0,1355.2 1588.3,1352.8 1588.8,1350.5 1590.4,1348.1 1591.5,1345.8 1593.3,1343.5 1593.8,1341.2 1595.3,1338.9 1596.7,1336.6 1597.9,1334.3 1598.9,1332.5 1600.6,1329.7 1602.3,1327.6 1604.1,1324.0 1605.8,1322.8 1607.5,1319.5 1609.2,1317.9 1611.0,1316.3 1612.7,1314.4 1614.4,1311.9 1617.0,1311.3 1619.6,1310.6 1622.2,1309.7 1624.8,1309.4 1627.4,1310.8 1630.0,1309.4 1632.6,1309.8 1635.2,1310.1 1637.8,1311.1 1640.4,1312.9 1642.9,1314.4 1645.5,1315.8 1648.1,1317.7 1650.7,1318.3 1653.3,1320.5 1655.9,1322.4 1658.5,1322.5 1660.7,1324.6 1662.8,1325.7 1665.0,1327.3 1667.1,1328.3 1669.3,1330.5 1671.5,1332.0 1673.6,1334.2 1675.8,1336.2 1677.9,1336.0 1680.1,1338.6 1682.3,1339.2 1684.4,1340.8 1686.5,1342.0 1688.6,1344.4 1690.6,1346.4 1692.7,1347.3 1694.8,1349.0 1697.4,1348.1 1700.0,1348.1 1702.6,1347.2 1705.2,1347.5 1707.8,1348.2 1710.3,1352.0 1712.9,1353.1 1715.5,1353.8 1718.1,1354.3 1720.7,1354.9 1723.3,1355.7 1725.9,1356.2 1728.5,1357.6 1731.1,1356.1 1733.7,1355.0 1736.3,1355.8 1738.9,1355.6 1741.9,1354.5 1744.9,1354.9 1747.9,1354.1 1748.6,1351.2 1749.7,1348.3 1750.2,1345.5 1751.3,1342.6 1752.9,1339.8 1753.6,1342.1 1754.4,1344.5 1755.2,1346.8 1756.2,1349.1 1757.0,1350.9 1760.3,1350.2 1763.3,1348.9 1764.4,1346.3 1766.1,1343.7 1766.5,1341.1 1767.8,1338.5 1768.9,1335.9 1770.3,1333.3 1770.3,1330.7 1770.9,1328.1 1771.3,1325.5 1771.5,1322.9 1771.7,1320.3 1772.0,1317.8 1773.0,1315.2 1772.8,1312.6 1773.8,1310.0 1774.4,1307.4 1773.8,1304.8 1773.8,1302.2 1773.8,1299.6 1774.1,1297.0 1774.7,1294.4 1774.2,1291.8 1774.2,1289.2 1774.1,1286.6 1774.7,1284.1 1774.9,1281.5 1775.3,1278.9 1775.0,1276.3 1775.0,1273.7 1775.1,1271.1 1776.1,1268.5 1775.8,1265.9 1775.7,1263.3 1775.4,1260.7 1775.5,1258.1 1775.7,1255.5 1775.7,1252.9 1776.0,1250.4 1775.7,1247.8 1776.6,1245.2 1775.8,1242.6 1776.4,1240.0 1776.5,1237.4 1776.7,1234.8 1776.9,1232.2 1776.6,1229.6 1776.7,1227.0 1777.2,1224.4 1777.2,1221.8 1776.9,1219.2 1777.2,1216.7 1776.7,1214.1 1777.3,1211.5 1776.6,1208.9 1778.5,1206.3 1778.8,1203.7 1779.8,1201.6 1783.1,1203.7 1783.0,1206.3 1783.6,1208.9 1784.1,1211.5 1783.5,1214.1 1784.6,1216.7 1784.4,1219.2 1784.2,1221.8 1784.6,1224.4 1785.0,1227.0 1785.3,1229.6 1785.1,1232.2 1785.4,1234.8 1785.9,1237.4 1786.0,1240.0 1786.7,1242.6 1786.6,1245.2 1786.8,1247.8 1786.5,1250.4 1786.7,1252.9 1786.8,1255.5 1787.3,1258.1 1787.7,1260.7 1788.2,1263.3 1788.2,1265.9 1787.9,1268.5 1788.4,1271.1 1789.4,1273.7 1789.1,1276.3 1789.6,1278.9 1789.3,1281.5 1789.7,1284.1 1790.3,1286.6 1790.6,1289.2 1792.2,1291.8 1793.3,1294.4 1793.1,1291.8 1794.6,1289.2 1794.2,1286.6 1793.9,1284.1 1795.1,1281.5 1795.1,1278.9 1795.1,1276.3 1795.4,1273.7 1795.8,1271.1 1795.2,1268.5 1796.4,1265.9 1796.3,1263.3 1796.6,1260.7 1796.4,1258.1 1796.5,1255.5 1797.3,1252.9 1796.0,1250.4 1797.6,1247.8 1797.7,1245.2 1797.0,1242.6 1797.6,1240.0 1797.6,1237.4 1797.8,1234.8 1798.0,1232.0 1798.4,1229.2 1799.3,1226.4 1799.6,1223.6 1800.3,1220.8 1800.8,1218.0 1800.8,1220.8 1802.1,1223.6 1802.4,1226.4 1801.8,1229.2 1802.7,1232.0 1803.1,1234.8 1803.4,1237.4 1803.1,1240.0 1804.0,1242.6 1803.5,1245.2 1804.4,1247.8 1803.6,1250.4 1804.6,1252.9 1804.2,1255.5 1804.5,1258.1 1804.4,1260.7 1804.5,1263.3 1804.2,1265.9 1804.6,1268.5 1804.5,1271.1 1804.8,1273.7 1804.9,1276.3 1805.4,1278.9 1805.4,1281.5 1805.4,1284.1 1805.1,1286.6 1806.1,1289.2 1805.8,1291.8 1806.0,1294.4 1806.4,1297.0 1806.5,1299.6 1806.7,1302.2 1806.8,1304.9 1809.1,1306.5 1811.7,1310.0 1811.7,1307.4 1812.3,1304.8 1812.4,1302.2 1812.5,1299.6 1813.3,1297.0 1813.2,1294.4 1813.8,1291.8 1813.9,1289.2 1814.3,1286.6 1814.7,1283.8 1814.9,1281.0 1814.8,1278.2 1815.4,1275.4 1816.2,1272.6 1816.1,1269.8 1816.5,1272.7 1817.2,1275.6 1818.0,1278.5 1818.0,1281.5 1818.4,1284.1 1818.5,1286.6 1818.6,1289.2 1819.2,1291.8 1819.0,1294.4 1819.4,1297.0 1819.7,1299.6 1819.9,1302.2 1820.1,1304.8 1820.4,1307.4 1820.1,1310.0 1819.8,1312.6 1821.6,1315.2 1822.6,1317.8 1822.8,1320.3 1823.7,1322.9 1824.4,1326.0 1826.0,1323.1 1827.5,1321.4 1829.1,1319.1 1830.6,1317.5 1832.2,1315.2 1833.0,1312.6 1832.5,1310.0 1832.8,1307.4 1832.9,1304.8 1833.7,1302.2 1833.9,1299.6 1834.1,1297.0 1834.6,1294.4 1834.5,1291.8 1834.6,1289.2 1835.9,1286.6 1835.7,1283.8 1835.9,1280.9 1836.9,1278.1 1837.0,1275.2 1837.1,1272.4 1838.3,1275.2 1839.3,1278.1 1839.9,1280.9 1840.5,1283.8 1841.3,1287.5 1842.6,1288.4 1843.9,1290.9 1845.3,1293.1 1845.6,1290.3 1846.9,1287.4 1847.6,1284.6 1848.6,1281.7 1849.1,1278.9 1850.2,1276.3 1849.7,1273.7 1850.5,1271.1 1851.0,1268.5 1851.6,1265.9 1852.9,1263.9 1854.2,1260.7 1855.5,1259.4 1856.8,1257.2 1858.1,1254.3 1861.0,1253.6 1863.9,1254.6 1866.9,1254.5 1869.8,1253.8 1871.5,1257.2 1873.0,1260.7 1873.2,1263.3 1874.2,1265.9 1874.8,1268.5 1875.0,1271.1 1875.2,1273.7 1875.8,1276.3 1876.3,1278.9 1877.8,1281.8 1878.1,1284.7 1879.3,1287.6 1880.1,1290.4 1884.0,1292.4 1886.0,1289.7 1888.0,1288.7 1890.0,1286.5 1887.2,1288.1 1884.4,1288.3 1888.8,1288.2 1891.8,1288.8 1894.7,1288.6 1899.1,1289.2 1901.3,1288.4 1903.5,1284.8 1906.1,1284.6 1908.7,1284.8 1911.2,1284.7 1913.8,1286.1 1916.4,1284.1 1919.0,1282.4 1920.2,1283.3 1921.4,1285.1 1922.6,1287.2 1925.6,1289.4 1928.5,1291.7 1930.5,1289.1 1932.5,1286.7 1934.4,1285.6 1937.4,1286.8 1940.4,1289.0 1941.6,1286.3 1942.0,1283.6 1943.1,1280.9 1944.5,1278.2 1944.6,1275.6 1945.7,1272.9 1946.4,1270.3 1947.6,1267.6 1948.4,1265.2 1949.7,1262.7 1950.4,1260.3 1951.9,1257.8 1952.3,1255.4 1953.5,1252.9 1954.7,1250.9 1955.9,1247.8 1957.1,1245.6 1958.2,1243.5 1959.3,1241.2 1960.2,1238.4 1960.2,1235.7 1960.5,1233.0 1961.7,1230.3 1961.8,1227.5 1962.4,1224.8 1963.0,1222.1 1964.4,1219.5 1965.3,1216.9 1966.1,1214.3 1967.1,1211.8 1967.6,1214.3 1968.9,1216.9 1969.3,1219.5 1969.4,1222.1 1970.2,1224.8 1969.7,1227.5 1970.1,1230.3 1970.3,1233.0 1971.2,1235.7 1971.5,1238.4 1971.2,1241.2 1971.5,1244.4 1972.5,1247.5 1972.6,1250.5 1974.9,1252.3 1976.3,1248.5 1977.8,1247.0 1979.0,1244.1 1980.3,1241.6 1980.3,1239.1 1980.6,1236.6 1981.4,1234.0 1981.2,1231.5 1982.4,1229.0 1982.9,1226.8 1984.4,1225.2 1985.9,1221.0 1987.4,1219.7 1990.3,1217.5 1993.2,1215.1 1996.8,1211.8 1997.1,1209.0 1996.8,1206.2 1997.3,1203.5 1996.9,1200.7 1997.2,1198.0 1997.5,1195.2 1997.3,1192.5 1997.3,1189.7 1997.8,1187.0 1998.2,1184.2 1998.5,1181.5 1998.6,1178.8 1999.2,1176.1 1998.9,1173.3 1999.5,1170.6 1999.1,1168.0 1999.9,1165.4 2000.2,1162.9 2000.9,1160.3 2000.4,1157.7 2000.9,1156.1 2002.6,1158.4 2004.1,1161.8 2004.0,1164.3 2005.0,1166.8 2004.7,1169.3 2005.4,1171.8 2005.4,1174.4 2005.8,1176.9 2005.7,1179.4 2009.2,1176.5 2009.5,1173.9 2009.8,1171.2 2010.1,1168.6 2010.0,1166.0 2010.7,1163.4 2010.0,1160.8 2010.4,1158.2 2011.2,1155.6 2011.3,1152.9 2012.0,1150.4 2011.9,1147.8 2011.4,1145.2 2011.6,1142.6 2012.1,1140.1 2012.3,1137.5 2012.7,1134.9 2012.5,1132.4 2013.2,1129.4 2013.9,1126.5 2014.9,1128.9 2015.4,1131.4 2016.4,1133.8 2016.9,1136.6 2016.9,1139.3 2016.9,1142.0 2017.6,1144.7 2018.0,1147.5 2017.7,1150.2 2018.1,1152.9 2018.0,1155.7 2018.3,1158.4 2018.5,1161.1 2018.7,1163.9 2019.1,1166.6 2020.1,1169.3 2020.0,1172.1 2020.7,1169.1 2022.0,1166.2 2022.4,1168.9 2022.9,1171.6 2022.8,1174.3 2023.8,1177.0 2024.0,1179.7 2024.7,1182.4 2025.0,1185.0 2024.2,1187.7 2024.7,1190.4 2025.8,1193.0 2026.3,1195.7 2026.3,1198.4 2025.9,1201.1 2026.3,1203.7 2026.8,1206.4 2026.8,1209.1 2026.4,1211.8 2027.5,1214.4 2027.4,1217.1 2027.8,1219.8 2027.6,1222.5 2028.0,1225.1 2029.0,1227.8 2028.8,1230.5 2029.3,1233.2 2029.9,1235.8 2029.7,1238.5 2030.0,1241.2 2030.5,1244.1 2031.4,1247.1 2031.9,1250.0 2032.5,1252.9 2033.4,1255.9 2033.5,1258.6 2034.2,1261.3 2033.9,1264.1 2034.5,1266.8 2035.2,1269.5 2035.2,1272.3 2035.9,1274.3 2037.4,1277.4 2038.8,1279.6 2040.3,1282.5 2041.6,1280.9 2042.9,1277.7 2044.2,1275.2 2045.3,1273.5 2046.0,1276.5 2046.7,1279.4 2048.0,1282.4 2048.5,1285.3 2049.5,1288.2 2050.3,1291.2 2051.3,1294.6 2053.5,1297.0 2056.2,1300.0 2056.3,1297.1 2056.8,1294.1 2057.6,1291.2 2058.6,1288.2 2058.0,1291.2 2059.2,1294.1 2059.2,1297.1 2059.6,1300.0 2061.2,1297.1 2062.8,1294.1 2063.8,1290.3 2065.4,1288.0 2067.6,1285.3 2067.4,1288.2 2066.9,1291.2 2067.1,1294.1" fill="none" stroke="#ff0000" stroke-width="7" stroke-linejoin="round" stroke-linecap="round"/>
<polyline points="723.7,1347.7 726.3,1347.6 728.9,1346.6 731.6,1347.7 734.4,1349.0 737.2,1347.5 740.0,1348.1 743.0,1348.4 745.9,1347.8 748.5,1346.9 751.1,1346.7 753.7,1346.0 756.3,1347.0 758.9,1346.6 761.5,1347.7 764.3,1348.3 767.2,1348.0 770.0,1348.9 772.9,1346.6 775.7,1346.3 777.4,1346.7 779.0,1344.1 780.6,1339.8 782.2,1338.6 784.8,1334.8 787.4,1333.3 788.7,1335.9 790.0,1338.8 791.3,1339.2 792.6,1341.1 795.2,1344.9 797.8,1345.9 800.4,1347.2 803.0,1344.3 805.5,1344.3 808.1,1342.7 810.7,1347.0 813.3,1347.6 816.6,1348.0 819.6,1348.9 819.0,1351.6 819.8,1354.4 820.7,1357.1 822.5,1359.9 822.3,1362.6 821.8,1365.4 822.8,1368.1 823.2,1370.9 823.5,1368.1 822.9,1365.4 823.4,1362.6 824.5,1359.9 824.6,1357.1 824.3,1354.4 826.2,1351.6 825.0,1349.1 826.9,1346.5 829.4,1345.0 830.7,1341.7 831.4,1338.5 832.7,1341.1 832.5,1343.7 832.1,1346.3 832.7,1348.9 832.9,1351.5 832.5,1354.1 833.3,1356.6 832.8,1359.2 833.1,1361.8 834.0,1359.0 833.2,1356.2 834.1,1353.4 834.1,1350.6 835.4,1347.8 835.4,1344.4 838.6,1346.1 841.8,1345.2 844.4,1344.3 847.0,1346.4 849.6,1347.2 852.2,1348.1 854.8,1349.3 857.4,1350.6 860.0,1351.8 862.6,1352.0 865.2,1349.4 867.8,1350.7 870.4,1351.5 872.9,1351.9 875.5,1352.9 878.1,1353.4 880.7,1352.3 883.3,1352.2 885.9,1355.1 888.5,1353.4 891.1,1354.5 893.7,1351.5 896.3,1353.0 898.9,1353.0" fill="none" stroke="#ff0000" stroke-width="11" stroke-linejoin="round" stroke-linecap="round"/>
<polyline points="410.4,1238.5 410.5,1246.3 412.3,1248.9 411.6,1256.6 410.2,1259.2 412.3,1261.8 410.2,1264.4 410.8,1267.0 412.5,1269.6 413.0,1272.2 413.0,1274.8 413.5,1277.4 413.3,1280.0 413.9,1281.9 415.2,1284.4 416.5,1288.9 417.8,1290.2 420.4,1287.8 423.0,1287.0 425.5,1289.1 428.1,1290.9 430.1,1291.4 432.0,1294.2 433.6,1297.3 437.1,1300.3 436.1,1303.3 438.1,1306.2 436.4,1309.1 439.6,1312.1 439.8,1312.7 441.7,1315.8 443.7,1319.1 446.3,1318.0 448.9,1316.6 450.8,1318.8 453.0,1320.2 453.6,1323.4 455.4,1330.8 459.1,1329.7 459.7,1327.1 461.4,1324.4 460.7,1321.7 460.7,1319.0 460.9,1316.3 462.6,1313.4 460.0,1310.6 460.4,1307.7 461.7,1304.9 461.8,1298.8 463.7,1303.3 465.6,1300.8 464.2,1298.2 465.0,1295.7 465.6,1293.2 463.9,1290.7 465.4,1288.1 464.7,1285.6 464.4,1283.1 465.3,1280.5 465.6,1278.0 465.4,1275.5 465.3,1272.9 466.9,1270.4 467.3,1267.9 466.8,1265.3 466.3,1262.8 465.5,1260.3 465.9,1257.8 465.7,1255.2 467.1,1252.7 467.9,1250.2 468.0,1252.7 467.2,1255.2 467.0,1257.7 467.7,1260.2 467.8,1262.7 468.3,1265.3 469.3,1267.8 467.4,1270.3 466.2,1275.3 466.7,1277.8 467.0,1280.4 467.6,1282.9 468.5,1285.4 468.3,1290.4 468.9,1295.5 469.6,1298.1 468.7,1300.7 470.0,1305.9" fill="none" stroke="#ff0000" stroke-width="9.5" stroke-linejoin="round" stroke-linecap="round"/>
<rect x="489.6" y="235.6" width="1477.2" height="586.9" fill="none" stroke="#000" stroke-width="6.6"/>
<rect x="486.3" y="822.5" width="6.6" height="7.2" fill="#000"/>
<text x="433.7" y="886.3" font-size="67">350</text>
<rect x="697.3" y="822.5" width="6.6" height="7.2" fill="#000"/>
<text x="645.3" y="886.3" font-size="67">400</text>
<rect x="908.4" y="822.5" width="6.6" height="7.2" fill="#000"/>
<text x="856.3" y="886.3" font-size="67">450</text>
<rect x="1119.4" y="822.5" width="6.6" height="7.2" fill="#000"/>
<text x="1066.8" y="886.3" font-size="67">500</text>
<rect x="1330.4" y="822.5" width="6.6" height="7.2" fill="#000"/>
<text x="1277.8" y="886.3" font-size="67">550</text>
<rect x="1541.4" y="822.5" width="6.6" height="7.2" fill="#000"/>
<text x="1488.5" y="886.3" font-size="67">600</text>
<rect x="1752.5" y="822.5" width="6.6" height="7.2" fill="#000"/>
<text x="1699.5" y="886.3" font-size="67">650</text>
<rect x="1963.5" y="822.5" width="6.6" height="7.2" fill="#000"/>
<text x="1910.5" y="886.3" font-size="67">700</text>
<polyline points="491.0,752.1 494.2,751.4 497.3,751.7 500.5,749.9 503.6,751.2 506.0,748.1 508.7,743.9 509.9,739.8 512.0,737.9 513.9,734.5 515.8,730.5 517.3,726.4 520.4,730.9 523.6,734.0 526.7,735.8 528.8,733.9 530.9,732.1 533.0,729.2 534.3,732.4 536.6,735.5 537.2,738.7 539.3,735.9 541.4,733.8 543.5,731.0 548.6,728.7 548.9,725.4 550.0,722.1 549.6,718.8 549.9,715.5 550.1,712.5 550.7,709.5 550.0,706.5 549.9,703.5 551.1,700.5 549.8,697.5 550.2,694.5 550.7,691.5 551.4,688.5 550.3,685.5 549.9,682.5 551.1,679.5 550.8,676.5 551.1,673.3 554.2,672.5 554.4,675.8 554.7,679.1 554.7,682.5 555.5,685.8 555.9,689.1 555.6,692.4 556.0,688.8 556.9,685.1 557.4,681.4 557.7,677.1 559.1,679.8 559.9,683.0 559.8,686.1 560.0,689.3 560.4,692.4 560.6,695.6 560.9,698.7 560.4,701.9 562.0,705.0 561.9,708.0 562.0,711.0 563.1,714.0 563.3,717.0 563.6,720.0 564.5,723.0 565.4,726.1 565.4,729.2 566.5,732.4 567.4,735.5 567.0,738.7 567.9,741.8 568.7,745.4 570.7,744.3 574.0,746.1 577.2,747.9 579.4,750.8 581.6,753.5 584.0,749.0 586.5,748.5 589.1,744.0 590.5,740.8 591.6,737.6 592.1,734.3 593.5,731.1 594.0,727.8 595.5,724.6 594.9,721.4 595.5,718.1 595.9,714.9 596.6,711.6 597.0,708.4 597.3,705.2 596.8,701.9 596.2,698.7 597.5,695.4 597.6,692.2 598.0,689.0 597.7,685.7 597.6,682.5 598.0,679.2 597.4,676.0 597.7,672.8 597.8,669.5 598.3,666.3 599.0,663.3 598.5,660.3 598.6,657.3 598.3,654.2 598.3,651.2 598.0,648.2 598.0,645.2 597.3,642.2 597.7,639.2 597.6,636.2 598.4,633.2 598.3,630.2 598.5,627.2 598.6,624.2 597.9,621.2 598.4,618.2 598.7,615.2 598.0,612.1 598.4,609.1 597.9,606.1 597.4,603.1 598.0,600.1 597.7,597.1 598.0,594.1 597.8,591.1 598.1,588.1 597.3,585.1 598.8,582.1 598.6,579.1 598.0,576.0 597.9,573.0 598.2,570.0 598.5,567.0 598.5,564.0 598.5,561.0 597.7,558.0 598.0,555.0 599.0,552.0 598.6,548.9 598.0,545.9 598.3,542.9 598.1,539.9 598.3,536.9 599.2,533.9 598.7,530.9 599.2,527.9 598.9,524.9 598.4,521.9 598.7,518.8 599.8,515.8 598.8,512.8 598.7,509.8 599.6,506.8 599.2,503.8 599.2,500.8 599.8,497.8 598.7,494.6 599.6,491.4 599.2,488.2 599.1,485.0 599.4,481.8 600.3,478.6 599.9,475.4 599.4,472.2 599.7,469.1 600.8,465.9 600.7,462.7 600.0,459.5 601.4,456.3 600.6,459.5 600.4,462.8 600.9,466.0 601.5,469.3 601.9,472.5 601.8,475.7 601.4,479.0 601.5,482.2 601.4,485.5 602.0,488.7 602.0,491.9 602.4,495.2 602.8,498.6 603.9,502.1 604.6,505.5 604.5,508.6 604.6,511.6 604.7,514.7 604.7,517.7 605.3,520.8 605.2,523.8 604.7,526.9 605.4,529.9 605.4,532.9 605.8,536.0 605.3,539.0 605.3,542.1 605.1,545.1 605.5,548.2 605.6,551.2 605.6,554.2 605.4,557.3 605.8,560.3 605.6,563.4 605.7,566.4 605.3,569.5 605.8,572.5 605.4,575.5 605.5,572.5 605.9,569.5 606.7,566.5 606.4,563.4 606.1,560.4 606.1,557.4 606.6,554.4 606.8,551.3 606.8,548.3 606.4,545.3 606.6,542.3 606.5,539.2 606.6,536.2 606.4,533.2 606.7,530.2 606.1,527.2 606.5,524.1 607.0,521.4 608.5,523.7 609.1,526.8 608.4,529.8 608.8,532.9 609.1,535.9 608.6,539.0 608.8,542.1 610.0,545.1 608.9,548.2 608.9,551.3 609.0,554.3 609.2,557.4 609.3,560.5 609.7,563.5 609.6,566.6 609.2,569.6 609.3,572.7 608.9,575.8 608.9,578.8 609.2,581.9 609.8,585.0 609.6,588.0 609.9,591.1 610.5,588.0 610.6,584.9 611.9,581.8 611.5,578.7 612.0,575.5 612.2,572.3 613.0,569.1 612.6,565.8 612.6,562.6 613.2,559.3 613.6,556.1 613.3,552.9 613.4,549.6 615.7,554.8 615.7,557.9 615.6,561.0 615.0,564.1 615.3,567.2 615.3,570.4 614.5,573.5 615.6,576.6 615.2,579.7 615.0,582.8 615.9,585.9 615.1,589.0 614.7,592.1 615.0,595.2 615.2,598.4 615.2,601.5 614.9,604.6 614.6,607.7 614.6,610.8 614.5,613.9 614.4,617.0 615.1,620.0 615.3,623.1 615.8,626.1 615.8,629.1 616.1,632.1 616.7,635.2 616.9,638.2 617.8,641.2 617.4,644.2 618.1,647.3 618.4,650.3 618.2,653.3 619.4,649.9 619.6,646.4 619.2,642.9 620.6,639.5 621.2,636.0 621.0,632.6 622.1,635.7 621.7,638.8 621.4,641.9 622.2,645.0 622.0,648.1 621.8,651.2 621.7,654.3 622.8,657.5 622.6,660.6 623.2,663.7 623.3,666.8 623.2,669.9 623.3,673.0 624.4,676.1 623.9,680.3 627.5,679.2 627.3,676.2 627.2,673.2 627.6,670.2 628.5,667.1 628.2,664.1 628.0,661.1 627.9,658.1 628.5,655.0 628.3,652.0 628.8,649.0 629.2,646.0 629.1,643.6 631.0,640.4 632.8,637.8 633.2,640.9 633.9,644.1 633.5,647.3 633.0,650.4 634.2,653.6 633.9,656.8 635.2,659.9 633.9,663.1 634.2,666.3 634.2,669.5 634.6,672.8 634.4,676.0 634.1,679.2 634.1,682.5 634.8,685.7 634.8,689.0 634.9,692.2 636.0,695.4 635.6,698.7 635.8,701.9 635.5,704.9 639.4,707.9 643.2,710.3 643.7,706.9 644.5,703.4 644.8,700.0 645.2,696.5 645.5,693.1 645.4,689.6 646.2,692.7 647.1,695.8 647.3,698.9 647.7,702.0 648.6,705.2 648.4,708.4 648.7,711.6 649.5,714.9 649.2,718.1 650.1,721.4 650.0,724.6 650.3,727.8 650.6,731.1 649.7,734.3 650.6,737.6 650.4,740.8 650.9,744.0 652.1,747.2 653.6,750.3 654.2,753.4 655.8,756.5 656.3,759.3 659.7,761.3 663.2,763.1 666.6,765.4 670.1,765.0 673.6,764.8 677.0,765.2 680.5,764.8 683.9,766.6 687.4,766.5 690.6,766.2 693.9,765.9 697.1,765.2 700.3,765.2 703.6,765.8 706.8,764.6 710.1,764.5 713.3,765.7 715.9,764.0 718.5,761.5 721.3,759.6 721.7,756.5 722.6,753.4 722.5,750.3 723.2,747.2 723.7,744.3 726.3,742.3 728.9,738.7 732.8,736.3 735.2,741.5 736.7,744.7 738.3,747.9 740.2,751.2 741.8,755.0 744.4,756.2 747.0,758.4 749.6,760.6 752.7,761.4 755.8,761.8 758.9,760.9 762.0,762.1 765.2,761.6 767.8,765.2 770.3,766.8 773.8,766.7 777.3,766.9 780.7,767.3 784.2,766.8 787.6,767.5 791.1,767.5 794.3,767.4 797.6,767.4 800.8,767.7 804.0,766.7 807.3,767.1 810.5,767.0 813.8,765.7 817.0,767.1 820.2,766.4 823.5,766.4 826.7,766.6 830.0,766.9 833.2,767.1 836.4,767.1 839.7,766.4 842.9,767.3 846.4,767.0 849.8,766.4 853.3,766.5 856.8,766.8 860.2,766.5 863.7,766.5 866.3,764.0 868.9,762.4 871.4,760.9 874.3,758.1 877.1,755.2 880.0,755.5 876.9,756.0 873.9,757.5 870.8,758.8 867.8,762.4 871.0,760.5 874.3,758.1 877.5,755.0 880.9,757.3 884.3,757.7 887.7,758.6 891.1,760.3 894.2,760.1 897.3,759.8 900.4,759.8 903.6,758.0 907.2,759.1 907.9,756.0 909.8,752.9 910.7,749.7 912.6,746.6 913.4,743.2 913.9,739.8 915.5,736.4 916.6,733.0 916.8,736.5 917.2,740.0 918.5,743.5 919.2,747.0 920.3,750.6 923.2,752.5 926.1,755.4 929.0,751.9 931.9,748.4 933.9,751.9 935.8,753.3 937.8,757.8 941.0,758.7 944.3,760.2 947.5,761.4 950.7,762.3 954.0,763.7 957.2,763.7 960.5,764.5 963.7,764.4 966.9,764.7 970.2,765.1 973.4,764.9 976.7,765.4 979.9,765.5 983.1,766.4 986.4,766.0 989.6,766.5 992.9,768.2 996.1,767.2 999.3,767.2 1002.6,767.5 1005.8,766.2 1009.1,767.3 1012.3,767.3 1015.5,767.1 1018.8,767.0 1022.0,766.4 1025.3,766.2 1028.5,764.7 1031.7,764.8 1035.0,763.8 1037.6,763.3 1040.2,761.0 1042.8,758.5 1045.4,757.7 1047.9,755.4 1050.9,754.4 1051.9,751.5 1052.7,748.6 1054.8,745.7 1056.7,742.7 1057.9,739.8 1059.1,736.9 1061.0,734.0 1062.2,731.4 1063.7,729.3 1065.1,726.3 1066.6,723.3 1068.0,719.9 1069.5,717.9 1070.9,715.2 1072.4,712.4 1074.0,709.7 1074.4,712.6 1076.0,715.5 1076.8,718.4 1077.9,721.4 1078.7,724.3 1079.6,727.2 1080.8,730.1 1081.6,733.5 1084.0,735.6 1086.3,738.7 1088.6,740.7 1091.0,744.2 1093.3,746.6 1095.9,747.5 1098.5,750.6 1101.1,751.0 1103.7,753.2 1106.3,754.0 1108.9,755.3 1111.2,758.7 1113.5,759.4 1115.9,760.9 1118.2,764.0 1120.5,765.2 1123.8,766.9 1127.0,769.1 1130.2,768.8 1133.5,770.2 1136.7,771.3 1140.0,772.1 1143.3,771.3 1146.6,771.7 1150.0,770.2 1153.3,769.9 1156.6,769.2 1160.0,767.8 1163.3,768.2 1165.9,766.4 1168.5,765.2 1171.1,763.6 1173.7,762.5 1176.3,758.8 1178.7,758.3 1180.1,755.5 1181.3,752.7 1183.2,750.0 1184.4,747.2 1185.8,744.4 1186.6,741.6 1188.2,738.9 1188.8,735.7 1188.9,732.6 1189.1,729.5 1189.6,726.4 1189.8,723.3 1189.8,720.2 1191.0,717.1 1190.4,714.0 1191.1,710.9 1191.4,707.7 1191.8,704.6 1191.5,701.5 1191.6,698.4 1192.4,695.3 1192.6,692.2 1191.7,689.1 1191.7,686.0 1192.5,682.9 1192.6,679.8 1192.8,676.6 1193.1,673.5 1192.7,670.4 1194.0,667.3 1193.5,664.2 1193.7,661.1 1193.4,658.0 1192.7,654.9 1193.6,651.8 1193.4,648.6 1193.8,645.5 1193.7,642.4 1194.0,639.3 1193.6,636.2 1193.8,633.1 1194.0,630.0 1193.8,626.9 1194.0,623.8 1194.5,620.6 1195.0,617.5 1194.3,614.4 1194.8,611.3 1194.2,608.1 1194.6,604.9 1195.0,601.8 1195.2,598.6 1194.8,595.5 1195.5,592.3 1195.4,589.1 1196.0,586.0 1196.0,582.8 1195.9,579.7 1195.7,576.5 1196.1,573.4 1195.8,570.2 1195.9,567.0 1196.4,562.8 1198.3,559.2 1199.8,556.1 1200.6,553.0 1201.0,549.9 1200.8,546.8 1201.6,543.7 1202.1,540.5 1202.7,537.4 1202.7,534.3 1203.1,531.2 1203.3,528.1 1204.1,525.0 1203.3,528.1 1204.1,531.3 1203.4,534.5 1204.9,537.6 1204.8,540.8 1203.9,543.9 1204.6,547.1 1204.4,550.3 1204.4,553.4 1205.1,556.6 1205.0,559.7 1205.9,562.9 1205.4,566.1 1205.4,569.2 1205.9,572.4 1206.2,575.5 1206.6,578.9 1206.8,582.2 1206.4,585.5 1206.9,588.9 1207.4,592.2 1207.4,595.5 1208.3,598.9 1208.2,595.6 1208.6,592.4 1208.9,589.1 1209.3,585.9 1209.1,582.7 1210.7,579.4 1210.0,582.6 1210.1,585.8 1210.0,589.0 1210.8,592.2 1210.6,595.4 1211.4,598.6 1211.9,601.8 1212.0,605.0 1211.8,608.2 1212.6,611.4 1212.3,614.6 1212.6,617.8 1212.9,621.0 1213.1,623.9 1214.8,621.7 1216.5,618.0 1218.2,614.9 1219.9,614.0 1221.4,610.5 1221.9,613.6 1222.6,616.6 1222.8,619.6 1222.9,622.6 1223.7,625.7 1223.9,628.7 1224.8,631.7 1224.9,634.7 1225.4,637.8 1226.0,640.9 1225.3,644.1 1225.5,647.3 1226.5,650.5 1226.8,653.7 1226.6,656.8 1226.5,660.0 1227.4,663.2 1227.3,666.4 1227.6,669.6 1227.5,671.7 1229.7,675.9 1231.9,678.6 1233.7,682.5 1235.0,679.4 1235.8,676.4 1236.1,673.3 1236.9,670.3 1238.2,667.2 1238.6,664.1 1239.1,661.1 1239.6,664.2 1239.7,667.3 1239.5,670.4 1240.0,673.5 1240.5,676.6 1240.9,679.8 1240.5,682.9 1240.9,686.0 1241.2,689.1 1241.2,692.2 1242.4,695.3 1242.4,698.4 1243.0,701.5 1242.0,704.6 1242.7,707.7 1244.4,710.7 1244.0,713.6 1244.6,716.5 1246.0,719.4 1247.2,722.3 1247.6,725.2 1247.8,728.2 1248.8,731.4 1252.7,733.3 1256.7,735.0 1257.6,731.9 1258.6,728.9 1259.6,725.9 1260.6,722.9 1261.3,719.8 1261.8,716.8 1262.0,713.8 1263.7,710.8 1263.9,707.7 1266.2,711.0 1265.9,714.2 1266.7,717.5 1267.6,720.7 1269.4,723.9 1270.3,727.2 1271.0,730.3 1271.5,733.4 1271.7,736.5 1272.9,739.6 1272.9,742.7 1273.2,745.9 1274.6,749.0 1275.1,752.1 1275.1,755.2 1276.1,758.1 1278.5,760.8 1280.9,762.7 1283.4,763.5 1285.8,766.7 1288.5,762.2 1291.2,761.5 1294.0,759.3 1296.7,756.7 1299.4,754.5 1302.0,751.5 1304.6,750.4 1307.3,748.6 1308.0,745.7 1309.6,742.8 1310.6,739.9 1311.0,737.1 1312.8,734.2 1314.0,737.1 1314.1,740.0 1315.5,742.9 1316.5,745.7 1316.7,748.6 1317.9,751.5 1318.8,754.9 1322.7,755.2 1326.6,754.6 1329.5,754.1 1332.5,752.1 1335.4,750.3 1338.3,749.5 1339.7,751.9 1341.2,754.6 1342.7,757.9 1344.1,760.6 1347.4,761.6 1350.6,761.5 1353.8,761.1 1357.7,763.1 1361.6,762.7 1365.5,762.5 1368.1,763.8 1370.7,765.4 1373.3,767.1 1375.9,768.1 1378.5,770.7 1381.1,772.0 1384.4,771.6 1387.7,772.6 1391.1,772.5 1394.4,773.0 1397.7,773.6 1401.1,775.2 1404.4,773.2 1407.6,774.0 1410.9,774.1 1414.1,773.9 1417.3,774.5 1420.6,773.3 1423.8,773.3 1427.1,773.4 1430.3,772.5 1433.6,773.9 1436.8,772.5 1440.0,773.5 1443.3,773.8 1446.6,772.6 1450.0,773.0 1453.3,773.0 1456.6,774.1 1460.0,773.2 1463.1,772.2 1466.3,774.1 1469.4,774.2 1472.5,772.6 1475.6,772.3 1478.9,775.2 1482.1,773.5 1485.4,771.9 1488.6,773.5 1491.8,773.5 1495.1,771.0 1498.3,772.9 1501.6,772.3 1504.8,771.6 1508.0,770.9 1511.3,771.3 1514.5,770.7 1517.8,771.3 1521.0,771.1 1524.3,771.1 1527.5,771.7 1530.7,772.1 1534.0,772.1 1537.2,771.9 1540.5,772.7 1543.7,771.0 1546.9,771.8 1550.2,772.0 1553.4,772.6 1556.7,770.6 1559.9,771.7 1563.1,771.8 1566.4,772.1 1569.6,773.4 1572.9,772.2 1576.1,772.0 1579.3,772.4 1582.6,772.7 1585.8,772.2 1589.1,773.5 1592.3,771.9 1595.5,773.6 1598.8,773.4 1602.0,773.7 1605.3,774.2 1608.5,773.3 1611.7,773.9 1615.0,773.9 1618.2,773.6 1621.5,773.5 1624.7,773.5 1627.9,774.4 1631.2,772.6 1634.4,773.2 1637.7,774.0 1640.9,774.7 1644.1,773.9 1647.4,774.7 1650.6,773.9 1653.9,773.6 1657.1,772.9 1660.3,773.7 1663.6,774.5 1666.8,773.4 1670.1,772.5 1673.3,773.3 1676.5,772.0 1679.8,772.0 1683.0,773.2 1686.3,772.6 1689.5,772.7 1692.5,771.8 1695.5,771.1 1698.4,770.8 1701.4,770.1 1704.4,770.4 1707.3,768.5 1710.3,767.3 1713.3,767.0 1716.2,767.2 1719.2,765.4 1722.2,763.5 1725.2,765.7 1727.3,760.9 1729.4,758.9 1731.6,756.8 1733.7,754.2 1735.8,751.5 1736.6,748.4 1738.7,745.3 1739.5,742.1 1741.2,738.9 1743.0,737.0 1744.8,733.8 1746.5,730.5 1748.3,728.7 1750.1,726.9 1753.7,726.4 1757.2,724.6 1760.8,724.8 1764.4,725.5 1767.9,726.6 1771.5,726.8 1775.1,728.4 1778.6,729.9 1782.2,732.2 1784.9,734.6 1787.5,736.2 1790.2,738.4 1792.9,741.8 1795.6,743.0 1798.2,744.8 1800.9,747.9 1803.6,749.0 1807.1,749.7 1810.7,751.4 1814.3,751.5 1817.8,753.1 1821.4,754.3 1825.0,754.6 1828.5,756.2 1832.1,756.6 1835.7,757.9 1839.2,758.8 1842.2,759.0 1845.2,758.8 1848.1,760.2 1851.1,760.5 1854.1,761.3 1857.0,760.8 1860.6,763.0 1864.2,764.2 1867.7,765.5 1870.6,766.7 1873.4,767.7 1876.3,768.1 1879.1,769.7 1882.0,770.8 1885.0,771.6 1888.1,771.5 1891.2,772.7 1894.2,772.5 1897.3,772.6 1900.3,772.7 1903.4,772.0 1906.6,773.1 1909.9,773.6 1913.1,772.3 1916.3,773.7 1919.6,773.2 1922.8,773.0 1926.1,772.6 1929.3,772.9 1932.5,772.4 1935.8,772.9 1939.0,772.9 1942.2,772.9 1945.4,772.2 1948.6,773.4 1951.9,772.5 1955.1,773.1 1958.3,773.2 1961.5,772.8 1964.7,772.9" fill="none" stroke="#ff0000" stroke-width="7" stroke-linejoin="round" stroke-linecap="round"/>
<polyline points="346.7,2281.1 347.6,2278.0 348.4,2274.9 348.6,2271.8 348.4,2268.7 347.6,2265.6 347.9,2262.5 347.5,2259.4 346.8,2256.3 347.5,2253.2 348.6,2250.1 348.1,2247.0 347.8,2243.9 347.3,2240.9 348.0,2237.8 347.7,2234.7 348.2,2231.6 348.6,2228.5 346.7,2225.4 348.3,2222.3 347.4,2219.2 347.8,2216.2 347.7,2213.2 349.4,2210.2 349.2,2207.2 349.1,2204.2 348.3,2201.2 347.9,2198.2 348.7,2195.2 349.2,2192.1 349.1,2189.1 349.7,2186.1 349.0,2183.1 350.7,2180.1 349.9,2177.1 351.0,2174.1 349.8,2171.1 349.6,2168.1 349.3,2165.1 350.6,2162.1 350.8,2159.1 350.3,2156.1 350.6,2153.1 350.2,2150.1 350.2,2147.1 350.4,2144.1 349.4,2141.1 350.1,2138.1 351.0,2135.1 351.1,2132.1 351.9,2129.1 351.7,2126.1 351.7,2123.1 351.6,2120.1 350.0,2117.1 351.8,2114.1 351.2,2111.1 352.4,2108.1 351.9,2105.1 352.0,2102.1 352.0,2099.1 352.3,2096.1 351.2,2093.1 351.7,2090.0 353.9,2086.8 353.5,2083.7 353.1,2080.5 353.4,2077.4 353.6,2074.2 356.4,2071.1 354.7,2067.9 354.5,2064.7 354.2,2061.6 353.2,2058.4 355.2,2055.3 356.3,2052.1 356.2,2049.0 355.9,2045.8 355.5,2042.7 355.3,2039.5 356.4,2036.4 356.3,2033.2 356.0,2030.1 358.2,2027.0 356.6,2024.0 357.1,2021.0 356.0,2017.9 359.2,2014.9 358.1,2011.9 358.4,2008.8 358.9,2005.8 358.3,2002.8 358.7,1999.6 359.6,1996.5 359.1,1993.3 360.2,1990.2 361.1,1987.0 361.0,1983.9 361.8,1980.7 361.8,1977.6 362.5,1974.6 361.8,1971.6 362.2,1968.6 361.4,1965.6 362.4,1962.6 362.3,1959.6 363.1,1956.6 362.9,1952.9 364.4,1949.2 366.5,1945.5 364.6,1941.8 366.2,1938.5 366.9,1935.1 366.6,1931.8 367.5,1928.4 368.0,1925.0 369.3,1922.1 369.2,1919.2 372.1,1916.2 371.5,1913.3 371.5,1911.7 373.8,1907.2 374.0,1910.6 373.9,1914.0 374.4,1917.4 374.7,1920.8 374.9,1924.0 375.2,1927.1 374.5,1930.3 374.7,1933.4 375.2,1936.6 375.6,1939.7 375.4,1942.9 375.7,1946.1 376.1,1949.2 376.1,1952.4 375.9,1955.5 375.9,1958.7 375.7,1961.8 376.3,1965.0 376.3,1968.1 376.1,1971.3 376.5,1974.4 376.3,1977.6 376.4,1980.7 376.1,1983.9 376.9,1987.0 376.4,1990.2 376.8,1993.3 376.8,1996.5 376.7,1999.5 377.0,2002.6 377.1,2005.6 377.2,2008.7 377.5,2011.7 377.4,2014.8 377.9,2017.9 377.8,2020.9 377.6,2024.0 378.2,2027.0 378.1,2030.1 378.5,2033.2 377.8,2036.2 378.7,2039.3 378.1,2042.4 378.7,2045.4 379.9,2048.5 379.3,2051.6 379.6,2054.6 379.2,2057.7 379.2,2060.8 379.6,2063.9 379.9,2066.9 379.9,2070.0 380.0,2066.8 380.3,2063.7 380.8,2060.5 381.8,2057.4 381.6,2054.2 381.9,2051.1 382.2,2047.9 382.2,2044.8 382.4,2041.6 383.1,2038.5 383.7,2035.3 383.7,2032.2 383.4,2029.0 384.6,2025.9 384.4,2022.5 385.1,2019.2 384.7,2015.8 384.5,2012.4 385.2,2009.1 385.2,2005.9 385.1,2002.8 385.3,1999.6 385.6,1996.5 385.5,1993.3 386.1,1990.2 386.2,1987.0 386.1,1983.9 386.2,1980.8 386.7,1977.8 386.7,1974.8 386.3,1971.7 386.9,1968.7 387.4,1965.7 387.1,1962.6 386.9,1959.6 387.7,1956.6 388.1,1953.3 387.6,1950.1 387.0,1946.8 387.4,1943.6 388.5,1940.3 388.0,1937.1 388.4,1933.8 388.5,1930.6 388.5,1927.3 389.1,1924.1 388.8,1920.8 389.1,1917.7 389.2,1914.5 389.3,1911.4 390.2,1908.2 389.3,1905.1 389.4,1901.9 390.3,1898.8 389.7,1895.6 390.3,1892.5 390.1,1889.3 391.8,1886.2 392.5,1883.0 395.3,1877.8 395.5,1881.6 396.4,1885.5 396.5,1889.3 397.6,1892.3 397.6,1895.3 397.7,1898.3 397.9,1901.3 397.9,1904.3 398.2,1907.3 398.4,1911.3 400.3,1912.4 400.4,1915.5 400.8,1918.5 400.7,1921.5 400.5,1924.6 401.2,1927.6 401.3,1930.6 400.8,1933.7 401.4,1936.7 400.5,1939.7 401.5,1942.8 400.5,1945.8 401.2,1948.9 401.1,1951.9 401.1,1954.9 401.4,1958.0 401.0,1961.0 401.1,1964.0 401.0,1967.1 401.9,1970.1 401.3,1973.1 401.6,1976.1 401.5,1979.1 401.9,1982.1 401.3,1985.1 401.4,1988.1 401.5,1991.1 401.8,1994.1 401.6,1997.1 402.0,2000.1 402.1,2003.1 402.3,2006.1 402.2,2009.1 402.4,2012.1 401.9,2015.1 401.9,2018.1 401.9,2021.1 401.9,2024.1 401.7,2027.1 402.3,2030.1 402.2,2033.1 401.6,2036.1 402.2,2039.1 402.0,2042.1 402.0,2045.1 402.2,2048.1 402.7,2051.1 402.4,2054.1 401.7,2057.1 402.5,2060.1 402.1,2063.1 402.9,2066.1 402.3,2069.1 402.4,2072.1 402.4,2075.1 402.3,2078.1 402.4,2081.1 402.5,2084.1 403.2,2087.1 402.6,2090.1 402.8,2093.1 402.7,2096.1 402.7,2099.1 402.8,2102.1 403.1,2105.1 401.8,2108.1 402.5,2111.1 402.5,2114.1 403.0,2117.1 402.6,2120.1 403.1,2123.1 403.2,2126.1 402.7,2129.1 403.0,2132.1 402.8,2135.1 403.2,2138.1 403.1,2141.1 403.3,2144.1 403.2,2147.1 402.7,2150.1 403.5,2153.1 403.1,2156.1 403.4,2159.2 403.1,2162.3 403.3,2165.3 402.7,2168.4 403.5,2171.4 402.8,2174.5 403.0,2177.6 403.2,2180.6 402.6,2183.7 403.2,2186.7 403.1,2189.8 403.3,2192.9 403.0,2195.9 402.8,2199.0 402.7,2202.0 402.8,2205.1 403.1,2208.2 403.0,2211.2 403.3,2214.3 403.5,2217.4 403.0,2220.4 402.9,2223.5 403.2,2226.5 403.2,2229.6 402.4,2232.7 402.9,2235.7 403.1,2238.8 403.3,2241.8 402.9,2244.9 402.8,2248.0 403.7,2251.0 402.2,2254.1 403.5,2257.1 402.9,2260.2 403.0,2263.3 403.1,2266.3 403.2,2269.4 402.8,2272.5 402.7,2275.5 403.2,2278.6 403.5,2281.6 403.0,2284.7 403.8,2287.8 402.7,2290.8 403.3,2293.9 403.2,2296.9 403.5,2300.0 402.8,2303.0 403.3,2306.1 403.1,2309.1 402.5,2312.1 403.0,2315.2 402.7,2318.2 403.1,2321.2 403.4,2324.3 403.2,2327.3 403.8,2330.3 403.4,2333.4 403.1,2336.4 403.2,2339.4 403.4,2342.5 403.1,2345.5 403.5,2348.5 403.5,2351.6 403.6,2354.6 403.4,2357.6 403.4,2360.7 403.0,2363.7 403.4,2366.7 403.4,2369.8 403.5,2372.8 403.5,2375.8 403.2,2378.9 403.3,2381.9 403.2,2384.9 403.1,2388.0 402.9,2391.0 403.2,2394.0 403.6,2397.1 402.8,2400.1 403.7,2403.1 403.8,2406.2 403.8,2409.2 403.5,2412.2 403.5,2415.3 403.9,2418.3 403.8,2421.3 404.1,2424.4 403.5,2427.4 403.5,2430.4 404.0,2433.5 403.6,2436.5 403.6,2439.5 404.1,2442.6 403.9,2445.6 403.6,2448.6 403.9,2451.7 403.7,2454.7 404.1,2457.7 403.9,2460.8 403.5,2463.8 404.3,2466.8 403.8,2469.9 403.9,2472.9 403.7,2475.9 403.9,2479.0 403.8,2482.0 404.1,2485.0 404.1,2488.1 404.3,2491.1 404.2,2494.1 403.8,2497.2 403.8,2500.2 403.8,2503.2 404.3,2506.3 403.8,2509.3 404.5,2512.3 404.2,2515.4 404.1,2518.4 404.2,2521.4 404.7,2524.5 404.2,2527.5 404.1,2530.5 403.9,2533.6 403.8,2536.6 404.0,2539.6 404.6,2542.7 404.5,2545.7 404.1,2548.7 403.6,2551.8 404.7,2554.8 404.5,2557.8 403.8,2560.9 404.3,2563.9 404.1,2566.9 404.7,2570.0 404.6,2573.0 404.3,2576.0 403.8,2579.1 404.4,2582.1 405.3,2585.1 404.7,2588.2 404.4,2591.2 404.8,2594.2 404.4,2597.3 405.1,2600.3 404.1,2603.3 404.5,2606.4 405.1,2609.4 405.0,2612.4 404.9,2615.5 404.3,2618.5 404.8,2621.5 405.0,2624.5 404.7,2627.5 404.8,2630.5 405.1,2633.5 404.7,2636.5 405.0,2639.5 404.8,2642.5 404.6,2645.5 404.5,2648.5 404.7,2651.5 404.7,2654.5 405.3,2657.5 405.0,2660.5 404.5,2663.5 405.5,2666.5 405.8,2669.5 405.0,2672.5 405.3,2675.5 405.1,2678.5 405.4,2681.6 405.2,2684.6 405.4,2687.6 405.2,2690.6 405.1,2693.6 405.2,2696.6 405.1,2699.6 405.1,2702.6 405.2,2705.6 406.2,2708.6 405.6,2711.6 406.0,2714.6 405.0,2717.6 405.4,2720.6 405.8,2723.6 405.9,2726.6 405.7,2729.6 405.4,2732.6 405.1,2735.6 405.7,2738.6 405.1,2741.6 405.7,2744.7 405.5,2747.7 405.5,2750.8 405.5,2753.9 405.2,2756.9 405.3,2760.0 405.8,2763.0 405.6,2766.1 405.5,2769.1 406.1,2772.2 406.0,2775.2 405.9,2778.3 405.4,2781.3 406.2,2784.4 406.1,2787.4 405.6,2790.5 405.8,2793.5 406.2,2796.6 406.4,2799.6 405.9,2802.7 405.7,2805.7 406.4,2808.8 405.9,2811.9 406.3,2814.9 406.1,2818.0 406.1,2821.0 406.0,2824.1 406.6,2827.1 406.1,2830.2 406.2,2833.2 406.1,2836.3 406.9,2839.3 406.4,2842.3 406.1,2845.3 406.4,2848.3 406.0,2851.3 406.5,2854.3 406.2,2857.3 407.0,2860.3 407.1,2863.3 407.4,2866.3 406.7,2869.3 406.5,2872.3 406.2,2875.3 407.0,2878.3 406.7,2881.3 407.4,2884.3 409.1,2887.4 405.7,2890.4 407.0,2893.4 408.9,2896.4 405.8,2899.4 406.2,2902.4 408.2,2905.5 407.8,2908.6 405.8,2911.6 408.0,2914.7 407.3,2917.7 407.7,2920.8 408.1,2923.9 409.5,2926.9 408.7,2930.0 407.1,2933.3 409.5,2936.7 409.0,2940.0 408.9,2943.3 407.9,2946.7 407.8,2950.0 408.9,2953.2 410.4,2956.4 409.6,2959.6 409.5,2962.8 409.7,2966.0 410.1,2969.3 409.9,2972.7 410.6,2976.0 409.7,2979.5 412.5,2983.0 414.2,2987.0 416.0,2988.4 419.5,2993.5 424.0,2992.1 426.5,2985.6 428.5,2981.0 430.3,2983.5 431.5,2986.9 434.0,2992.4 436.3,2990.9 439.4,2991.5 442.5,2989.4 445.6,2988.5 448.7,2988.9 451.8,2987.3 455.1,2987.6 458.3,2987.9 461.6,2987.7 464.8,2988.0 468.0,2987.7 471.3,2988.5 474.5,2988.9 477.8,2988.5 481.0,2988.2 484.2,2988.9 487.5,2989.6 490.7,2989.8 494.0,2989.7 497.2,2989.3 500.4,2990.0 503.7,2989.9 506.9,2990.2 510.2,2990.0 513.4,2989.1 516.6,2989.6 519.9,2989.4 523.1,2989.7 526.4,2990.0 529.6,2988.2 532.8,2988.7 536.1,2988.7 539.3,2988.7 542.6,2988.8 545.8,2989.8 549.0,2989.3 552.3,2988.9 555.5,2989.2 558.8,2989.2 562.0,2989.0 565.2,2989.3 568.5,2989.7 571.7,2990.2 575.0,2989.2 578.2,2989.9 581.4,2990.1 584.7,2990.2 587.9,2989.8 591.2,2989.8 594.4,2989.2 597.6,2989.5 600.9,2989.7 604.1,2989.6 607.4,2990.2 610.6,2989.7 613.8,2989.5 617.1,2989.2 620.3,2989.5 623.6,2988.6 626.8,2990.0 630.0,2988.4 633.3,2988.6 636.5,2988.7 639.8,2988.5 643.0,2988.6 646.2,2987.2 649.5,2987.9 652.7,2987.2 656.0,2988.3 659.2,2986.4 662.7,2987.2 666.1,2987.3 669.6,2986.8 673.0,2986.8 676.5,2986.5 679.9,2986.5 683.4,2986.6 686.8,2985.8 690.3,2986.1 693.8,2985.3 697.2,2985.5 700.7,2982.9 704.1,2987.5 707.6,2986.4 711.0,2987.1 714.5,2989.0 718.0,2985.8 721.4,2985.9 724.5,2983.8 727.6,2989.6 730.7,2989.1 733.9,2991.7 737.0,2989.1 740.2,2989.6 743.4,2989.0 746.7,2989.3 749.9,2989.4 753.2,2988.1 756.4,2987.9 759.6,2988.4 762.9,2987.3 766.1,2991.0 769.4,2987.8 772.6,2988.6 775.8,2988.9 779.1,2988.1 782.3,2991.2 785.6,2989.5 788.8,2990.5 792.0,2987.0 795.3,2988.1 798.5,2986.0 801.8,2991.2 805.0,2988.7 808.2,2990.6 811.5,2991.6 814.7,2987.9 818.0,2991.0 821.2,2989.6 824.4,2990.4 827.7,2990.3 830.9,2990.7 834.2,2989.7 837.4,2987.7 840.6,2988.7 843.8,2990.2 846.9,2990.8 850.0,2989.9 853.1,2991.7 856.2,2992.6 859.7,2993.6 863.1,2993.6 866.6,2993.8 869.8,2994.4 873.0,2994.1 876.3,2995.1 879.5,2994.4 882.8,2995.8 886.0,2995.3 889.2,2996.5 892.5,2996.1 895.7,2996.1 899.0,2996.7 902.2,2996.6 905.4,2996.9 908.7,2998.1 911.9,2997.7 915.2,2997.8 918.4,2996.7 921.6,2998.6 924.9,2998.5 928.1,2998.3 931.4,2997.9 934.6,2998.0 937.8,2998.5 941.1,2999.1 944.3,2999.4 947.6,2999.6 950.8,2999.7 954.0,2999.7 957.3,2999.7 960.5,2999.3 963.8,3001.1 967.0,3000.7 970.2,3000.9 973.5,3000.4 976.7,2999.9 980.0,3001.5 983.2,3000.4 986.4,3000.3 989.7,3001.4 992.9,3002.0 996.2,3001.2 999.6,3001.4 1003.1,3001.7 1006.5,3001.5 1010.0,3001.4 1013.4,3001.8 1016.9,3001.8 1019.5,2998.9 1022.1,2997.0 1024.7,2995.0 1027.3,2993.0 1028.8,2990.1 1030.4,2987.2 1031.9,2984.9 1033.5,2981.7 1035.4,2979.6 1037.3,2977.6 1039.2,2974.5 1041.3,2977.2 1043.3,2979.9 1045.4,2982.2 1047.4,2984.3 1049.3,2987.0 1051.2,2990.5 1053.2,2992.5 1056.2,2993.0 1059.1,2995.5 1062.1,2995.6 1065.0,2996.3 1068.0,2999.2 1071.0,2999.5 1073.9,3000.4 1077.2,3001.2 1080.4,3001.7 1083.6,3001.6 1086.9,3002.8 1090.1,3002.6 1093.4,3003.1 1096.6,3003.2 1099.8,3004.6 1103.1,3006.1 1106.3,3004.8 1109.6,3005.5 1112.8,3006.7 1116.0,3007.7 1119.3,3007.2 1122.5,3007.8 1125.8,3007.9 1129.0,3008.2 1132.2,3009.0 1135.5,3008.5 1138.7,3009.4 1142.0,3009.5 1145.2,3009.1 1148.4,3009.0 1151.7,3009.7 1154.9,3008.9 1158.2,3008.9 1161.4,3009.2 1164.6,3009.0 1167.9,3008.7 1171.1,3007.6 1174.4,3008.1 1177.6,3008.4 1180.8,3008.3 1184.0,3007.8 1187.2,3006.0 1190.3,3006.1 1193.5,3006.0 1196.7,3005.3 1199.9,3004.6 1202.6,3006.4 1205.3,3008.9 1207.9,3010.1 1210.5,3012.1 1213.1,3013.8 1215.8,3012.6 1218.5,3009.7 1221.2,3008.2 1223.9,3005.4 1226.7,3003.6 1230.1,3002.1 1233.5,3001.9 1236.9,3001.1 1240.3,3001.2 1243.8,3001.5 1247.3,3002.5 1250.8,3003.2 1254.3,3004.1 1257.8,3003.9 1261.0,3006.3 1264.3,3006.1 1267.5,3007.9 1270.7,3008.2 1274.0,3007.5 1277.2,3008.7 1280.5,3008.1 1283.7,3007.6 1286.9,3007.1 1290.2,3006.9 1293.4,3007.7 1296.7,3007.4 1299.9,3007.5 1303.1,3007.6 1306.4,3007.1 1309.6,3007.2 1312.9,3007.4 1316.1,3006.5 1319.3,3006.7 1322.6,3006.5 1325.8,3007.0 1329.1,3006.6 1332.3,3007.0 1335.5,3006.4 1338.8,3005.8 1342.0,3006.2 1345.3,3005.8 1348.5,3005.3 1351.7,3005.6 1355.0,3005.3 1358.2,3004.3 1361.5,3004.2 1364.7,3003.6 1367.9,3003.0 1371.2,3002.5 1374.4,3001.8 1377.8,3000.9 1381.2,2999.5 1384.6,2998.5 1388.0,2996.9 1389.5,2993.9 1390.9,2990.9 1392.4,2987.9 1393.7,2985.3 1394.9,2982.3 1396.5,2979.4 1398.1,2976.5 1399.7,2973.0 1402.6,2976.9 1405.5,2980.2 1407.3,2977.9 1409.0,2975.1 1410.8,2971.5 1412.5,2970.0 1415.8,2972.0 1419.2,2973.6 1419.2,2970.4 1419.8,2967.3 1420.4,2964.1 1420.6,2961.0 1420.9,2957.8 1421.2,2954.6 1421.7,2951.5 1421.6,2948.3 1422.0,2945.1 1422.1,2942.0 1422.5,2938.8 1422.1,2935.6 1423.3,2932.4 1423.2,2929.2 1423.8,2926.0 1423.3,2922.9 1424.1,2919.7 1424.3,2916.5 1424.2,2913.3 1424.6,2909.8 1425.1,2906.3 1425.5,2902.8 1426.5,2899.3 1426.9,2896.7 1429.4,2894.0 1432.0,2891.8 1436.2,2890.0 1437.5,2892.9 1438.6,2895.8 1439.0,2898.7 1440.0,2901.7 1440.0,2904.8 1439.7,2907.9 1440.7,2911.0 1441.5,2914.1 1441.3,2916.3 1443.0,2921.5 1444.7,2923.5 1446.2,2925.0 1447.1,2928.1 1447.5,2931.3 1448.3,2934.5 1448.0,2937.6 1448.6,2940.8 1448.9,2943.9 1449.8,2947.1 1450.2,2950.0 1452.8,2952.1 1455.4,2954.1 1457.8,2956.1 1459.7,2959.0 1460.1,2961.9 1461.4,2964.8 1461.9,2968.3 1464.3,2969.8 1466.8,2971.1 1469.2,2973.3 1471.6,2975.3 1474.2,2978.1 1476.8,2981.2 1479.4,2982.5 1482.3,2983.0 1485.2,2985.1 1488.2,2986.7 1491.1,2988.2 1495.0,2985.4 1498.9,2985.0 1501.1,2988.2 1503.4,2990.6 1505.7,2993.1 1507.9,2994.3 1510.2,2996.4 1512.5,2998.6 1515.2,2996.6 1517.9,2995.1 1520.6,2994.5 1523.4,2993.3 1526.1,2990.8 1529.0,2991.5 1531.9,2994.8 1534.8,2995.8 1537.7,2997.4 1540.9,2997.8 1544.0,2998.9 1547.1,2999.8 1550.2,2999.7 1553.3,3000.5 1556.7,3001.2 1560.1,3000.9 1563.5,3001.0 1566.9,3001.8 1568.6,3004.7 1570.2,3007.0 1571.9,3009.1 1573.6,3012.3 1575.2,3014.8 1576.9,3018.3 1578.6,3019.7 1581.0,3017.9 1583.4,3015.1 1585.9,3012.9 1588.3,3011.1 1591.5,3009.9 1594.8,3006.7 1598.0,3004.8 1599.6,3002.2 1601.1,2999.4 1602.7,2996.2 1604.2,2993.2 1605.8,2990.8 1608.5,2993.1 1611.2,2995.1 1614.0,2996.6 1616.7,2997.9 1619.4,3000.9 1622.4,3000.7 1625.4,3000.8 1628.5,3001.7 1631.5,3002.3 1634.5,3001.7 1637.5,3002.2 1640.6,3000.6 1643.6,3002.7 1646.6,3001.5 1649.6,3002.2 1652.6,3003.5 1655.6,3003.3 1658.6,3003.6 1661.6,3005.4 1664.6,3005.1 1667.6,3005.8 1670.5,3005.9 1673.5,3005.5 1676.5,3006.4 1679.5,3005.9 1682.5,3007.7 1685.5,3007.3 1688.7,3007.4 1692.0,3008.0 1695.2,3007.6 1698.5,3008.5 1701.7,3007.9 1704.9,3009.0 1708.2,3008.3 1711.4,3008.1 1714.7,3010.4 1717.9,3010.0 1721.1,3009.5 1724.4,3009.1 1727.6,3009.0 1730.9,3008.3 1734.1,3007.5 1737.3,3007.6 1740.6,3006.3 1743.8,3006.5 1745.4,3002.9 1746.9,3000.9 1748.5,2996.4 1750.1,2994.0 1751.6,2991.2 1754.2,2993.1 1756.8,2996.0 1759.4,2998.6 1761.3,2996.8 1763.3,2994.0 1765.2,2991.8 1766.8,2989.1 1767.8,2986.1 1767.7,2983.0 1769.0,2980.0 1768.9,2976.9 1770.1,2973.9 1770.5,2970.8 1770.7,2967.8 1771.0,2964.7 1771.5,2961.5 1771.4,2958.4 1771.3,2955.3 1772.6,2952.2 1772.1,2949.1 1772.8,2946.0 1772.5,2942.9 1772.0,2939.8 1773.2,2936.7 1773.1,2933.6 1773.3,2930.5 1773.9,2927.4 1773.5,2924.4 1774.2,2921.3 1774.0,2918.2 1774.2,2915.2 1774.3,2912.1 1774.4,2909.0 1774.6,2906.0 1774.9,2902.9 1775.7,2899.8 1775.8,2896.7 1775.8,2893.7 1776.3,2890.6 1775.9,2887.5 1776.4,2884.5 1776.7,2881.4 1776.7,2878.3 1777.3,2875.0 1777.9,2871.7 1778.5,2868.3 1778.2,2865.0 1778.6,2861.7 1779.2,2858.3 1779.6,2855.0 1779.6,2858.0 1779.4,2861.0 1779.0,2864.0 1778.9,2867.0 1778.3,2870.0 1778.0,2873.0 1777.6,2876.0 1777.4,2879.0 1777.4,2882.0 1777.0,2885.0 1776.9,2888.0 1776.2,2891.0 1775.8,2894.0 1775.4,2897.0 1775.0,2900.0 1775.2,2903.0 1775.1,2906.0 1774.2,2909.0 1774.2,2912.0 1773.6,2915.0 1773.6,2918.0 1773.3,2921.1 1772.8,2924.1 1772.6,2927.1 1772.3,2930.1 1772.4,2933.1 1771.6,2936.1 1771.6,2939.1 1770.5,2942.1 1771.1,2945.1 1770.1,2948.1 1770.0,2951.1 1770.3,2954.1 1769.6,2957.1 1769.7,2960.1 1768.8,2963.1 1768.8,2966.1 1768.0,2969.1 1768.4,2972.1 1767.7,2975.1 1767.2,2978.1 1767.5,2981.1 1767.1,2984.1 1766.7,2987.1 1766.4,2990.1 1767.0,2986.8 1767.7,2983.5 1768.8,2980.2 1769.1,2976.8 1770.0,2973.5 1770.6,2970.3 1771.6,2967.0 1771.9,2963.7 1772.2,2960.5 1772.2,2957.2 1773.2,2954.0 1773.9,2950.7 1773.3,2947.2 1773.7,2943.8 1774.2,2940.3 1774.7,2936.9 1774.2,2933.4 1775.0,2930.0 1774.7,2926.9 1775.1,2923.7 1775.2,2920.6 1775.3,2917.5 1775.6,2914.4 1775.8,2911.3 1775.5,2908.2 1776.1,2905.1 1776.9,2902.0 1776.7,2898.9 1776.9,2895.7 1777.1,2892.4 1777.4,2889.2 1777.1,2886.0 1777.7,2882.8 1777.8,2879.6 1777.9,2876.4 1778.2,2873.2 1778.1,2870.0 1778.4,2866.8 1779.0,2863.6 1780.4,2859.5 1781.5,2863.1 1782.4,2866.7 1782.7,2870.3 1783.4,2874.0 1783.5,2877.1 1783.7,2880.2 1784.4,2883.3 1784.3,2886.4 1784.4,2889.5 1785.1,2892.6 1785.1,2895.7 1785.4,2898.9 1786.0,2902.3 1786.1,2905.8 1785.5,2909.2 1787.2,2912.7 1786.6,2916.1 1787.0,2919.6 1787.9,2922.9 1788.4,2926.1 1789.0,2929.4 1789.2,2932.6 1789.5,2935.9 1790.8,2939.2 1791.1,2942.4 1793.6,2944.5 1794.8,2941.4 1794.8,2938.3 1794.8,2935.2 1794.8,2932.0 1795.8,2928.9 1796.3,2925.8 1796.2,2922.7 1796.6,2919.6 1796.2,2916.1 1796.9,2912.7 1797.1,2909.2 1797.3,2905.8 1797.7,2902.3 1797.3,2898.9 1798.0,2895.7 1798.4,2892.6 1799.3,2889.5 1799.9,2886.4 1800.3,2883.3 1801.1,2886.4 1801.5,2889.5 1801.3,2892.6 1802.2,2895.7 1802.8,2898.9 1802.7,2902.3 1803.1,2905.8 1803.1,2909.2 1802.9,2912.7 1803.8,2916.1 1804.2,2919.6 1803.8,2922.7 1805.2,2925.8 1805.0,2928.9 1804.3,2932.0 1805.1,2935.2 1805.1,2938.3 1805.2,2941.4 1804.8,2944.5 1805.7,2947.6 1805.6,2950.7 1806.7,2953.5 1808.4,2956.2 1809.8,2959.7 1813.7,2954.9 1814.2,2951.7 1814.3,2948.6 1814.5,2945.5 1815.1,2942.4 1815.1,2939.3 1815.5,2936.2 1815.0,2932.9 1815.2,2929.6 1815.3,2926.2 1815.7,2922.9 1816.3,2919.6 1816.2,2923.1 1817.7,2926.5 1818.4,2930.0 1818.3,2933.4 1818.7,2936.9 1819.6,2940.3 1820.1,2943.4 1819.3,2946.4 1820.5,2949.4 1820.2,2952.4 1820.7,2955.4 1820.5,2958.4 1821.0,2961.5 1821.2,2964.5 1821.9,2967.5 1821.9,2970.5 1822.2,2973.6 1823.8,2975.8 1825.3,2980.1 1827.1,2976.6 1828.8,2974.1 1830.5,2971.4 1832.2,2968.0 1833.0,2964.5 1834.8,2961.1 1835.2,2957.8 1835.0,2954.6 1835.8,2951.3 1835.8,2948.0 1836.4,2944.8 1835.9,2941.5 1836.7,2938.1 1840.6,2938.3 1841.6,2941.4 1841.7,2944.5 1843.4,2947.6 1843.7,2950.7 1843.9,2953.8 1845.5,2956.9 1846.5,2954.0 1847.1,2951.1 1848.9,2948.2 1849.9,2945.3 1851.3,2942.4 1851.6,2939.5 1852.8,2936.6 1853.9,2933.7 1854.9,2930.8 1855.4,2927.9 1858.0,2925.4 1860.6,2923.2 1863.2,2925.4 1865.8,2927.9 1868.9,2928.2 1871.7,2927.9 1873.3,2931.2 1873.3,2934.5 1874.4,2937.8 1875.5,2941.2 1876.1,2944.3 1879.2,2947.7 1882.4,2949.2 1885.5,2948.2 1888.6,2946.0 1891.7,2946.1 1894.8,2944.9 1898.3,2944.6 1901.7,2945.7 1905.2,2946.9 1908.3,2945.5 1911.4,2944.4 1914.5,2942.2 1917.6,2938.4 1920.7,2940.9 1923.8,2945.0 1925.9,2947.4 1928.0,2949.1 1930.1,2952.4 1932.6,2950.7 1935.2,2949.4 1937.8,2948.3 1940.0,2946.6 1941.6,2943.7 1942.9,2940.8 1944.1,2937.8 1945.1,2934.9 1946.3,2932.0 1948.1,2928.9 1949.8,2925.8 1951.1,2922.7 1953.0,2919.6 1953.5,2916.5 1954.7,2913.4 1954.7,2910.3 1956.0,2907.8 1958.6,2904.2 1961.2,2901.1 1963.2,2897.8 1965.3,2896.1 1968.0,2892.6 1968.3,2895.9 1969.7,2899.1 1969.1,2902.3 1970.8,2905.5 1970.7,2908.8 1971.5,2912.0 1972.3,2915.2 1973.3,2918.4 1973.6,2922.0 1977.8,2917.5 1978.5,2914.4 1979.6,2911.3 1980.7,2908.2 1981.1,2905.1 1981.9,2902.0 1982.9,2899.2 1984.7,2895.9 1986.4,2892.4 1988.1,2888.1 1990.9,2886.4 1993.7,2886.4 1996.0,2884.3 1996.5,2881.3 1997.0,2878.4 1997.5,2875.4 1997.6,2872.4 1997.5,2869.4 1997.7,2866.4 1997.9,2863.4 1997.6,2860.4 1998.9,2857.4 1998.8,2854.2 1999.0,2850.9 1998.7,2847.7 1999.4,2844.5 1999.9,2841.3 2000.1,2838.0 2000.2,2834.8 1999.8,2831.6 2000.3,2828.3 2000.9,2831.7 2002.2,2835.0 2002.9,2838.3 2002.9,2841.6 2003.7,2845.0 2007.0,2849.1 2007.4,2846.0 2007.8,2842.9 2008.1,2839.8 2008.9,2836.6 2009.4,2833.2 2009.9,2829.7 2009.8,2826.3 2010.5,2822.8 2010.8,2819.4 2010.5,2815.9 2011.4,2812.8 2011.7,2809.7 2012.3,2806.6 2012.3,2803.5 2012.3,2800.4 2013.4,2797.2 2013.7,2800.7 2015.1,2804.2 2016.1,2807.6 2016.2,2810.8 2016.8,2814.1 2016.6,2817.3 2016.7,2820.5 2017.2,2823.7 2017.4,2827.0 2017.7,2830.2 2017.5,2833.4 2018.1,2836.6 2019.1,2839.8 2020.3,2843.7 2021.6,2839.6 2023.0,2837.3 2024.5,2834.6 2025.0,2837.8 2025.1,2841.1 2026.0,2844.3 2026.6,2847.6 2026.4,2850.9 2027.2,2854.1 2027.7,2857.4 2027.8,2860.5 2027.9,2863.6 2028.6,2866.7 2028.1,2869.8 2028.7,2872.9 2028.6,2876.0 2029.2,2879.2 2028.9,2882.3 2029.2,2885.4 2029.7,2888.5 2029.8,2891.6 2030.8,2894.7 2030.7,2897.8 2032.0,2900.9 2031.8,2904.0 2031.5,2907.2 2032.3,2910.3 2032.5,2913.4 2033.3,2916.5 2033.9,2919.6 2034.7,2922.6 2035.2,2925.5 2035.8,2928.5 2036.0,2931.4 2036.5,2934.4 2037.2,2937.4 2037.5,2940.3 2038.7,2943.1 2040.6,2945.9 2041.7,2948.6 2043.4,2945.5 2043.9,2942.4 2045.7,2939.3 2046.0,2936.2 2046.5,2939.3 2046.5,2942.4 2047.1,2945.5 2047.9,2948.6 2047.9,2951.7 2048.9,2954.9 2049.1,2958.0 2049.3,2960.8 2051.9,2962.7 2054.5,2965.2 2058.6,2961.1 2060.2,2957.6 2061.6,2954.2 2062.8,2950.3 2065.1,2948.7 2067.3,2946.6" fill="none" stroke="#0000ff" stroke-width="8" stroke-linejoin="round" stroke-linecap="round"/>
<polyline points="414.2,2987.0 416.0,2988.4 419.5,2993.5 424.0,2992.1 426.5,2985.6 428.5,2981.0 430.3,2983.5 431.5,2986.9 434.0,2992.4 436.3,2990.9 439.4,2991.5 442.5,2989.4 445.6,2988.5 448.7,2988.9 451.8,2987.3 455.1,2987.6 458.3,2987.9 461.6,2987.7 464.8,2988.0 468.0,2987.7 471.3,2988.5 474.5,2988.9 477.8,2988.5 481.0,2988.2 484.2,2988.9 487.5,2989.6 490.7,2989.8 494.0,2989.7 497.2,2989.3 500.4,2990.0 503.7,2989.9 506.9,2990.2 510.2,2990.0 513.4,2989.1 516.6,2989.6 519.9,2989.4" fill="none" stroke="#0000ff" stroke-width="11" stroke-linejoin="round" stroke-linecap="round"/>
<rect x="518.8" y="2039.0" width="1479.7" height="585.9" fill="none" stroke="#000" stroke-width="7.8"/>
<rect x="514.9" y="2624.9" width="7.8" height="10.5" fill="#000"/>
<text x="460.7" y="2696.2" font-size="69.3">275</text>
<rect x="761.5" y="2624.9" width="7.8" height="6.4" fill="#000"/>
<rect x="1008.1" y="2624.9" width="7.8" height="10.5" fill="#000"/>
<text x="954.3" y="2696.2" font-size="69.3">300</text>
<rect x="1254.8" y="2624.9" width="7.8" height="6.4" fill="#000"/>
<rect x="1501.4" y="2624.9" width="7.8" height="10.5" fill="#000"/>
<text x="1447.6" y="2696.2" font-size="69.3">325</text>
<rect x="1748.0" y="2624.9" width="7.8" height="6.4" fill="#000"/>
<rect x="1994.6" y="2624.9" width="7.8" height="10.5" fill="#000"/>
<text x="1940.7" y="2696.2" font-size="69.3">350</text>
<polyline points="723.0,2038.4 724.5,2044.7 725.2,2051.0 724.2,2057.3 722.7,2063.5 726.2,2071.6 724.1,2074.3 728.0,2083.2 730.2,2090.3 728.2,2094.7 733.1,2101.0 728.4,2106.0 730.4,2114.3 730.5,2120.2 732.4,2127.7 735.4,2135.4 731.8,2142.4 733.4,2147.4 733.5,2153.3 734.7,2159.2 741.4,2164.4 738.3,2168.8 737.4,2178.1 738.9,2183.9 740.5,2188.2 742.9,2192.6 746.7,2197.3 745.8,2204.4 747.3,2208.9 749.5,2218.7 750.8,2226.4 749.8,2227.7 751.1,2236.3 752.9,2238.7 751.4,2246.2 752.3,2249.9 753.4,2252.0 752.8,2257.1 756.7,2268.0 758.6,2271.9 760.0,2280.7 763.2,2299.2 766.2,2311.6 768.3,2320.6 770.7,2333.5 773.4,2332.3 775.8,2340.1 778.8,2342.1 781.9,2351.1 785.1,2357.8 788.1,2375.5 790.4,2372.2 793.4,2378.1 795.5,2379.7 798.5,2387.3 800.5,2377.5 802.6,2403.8 805.7,2402.6 808.5,2391.2 811.3,2396.1 813.9,2424.2 816.8,2430.6 819.6,2410.3 822.7,2414.7 825.7,2412.3 828.4,2432.3 831.6,2423.9 834.3,2420.2 836.4,2435.1 838.6,2428.6 841.4,2432.0 844.2,2443.7 847.0,2431.1 849.2,2439.1 852.3,2442.9 854.5,2433.6 857.5,2450.6 859.8,2439.3 862.6,2446.1 865.1,2424.1 867.2,2448.4 869.2,2443.4 871.2,2454.6 873.8,2445.1 876.7,2448.1 878.9,2453.8 881.8,2450.9 884.4,2457.7 886.9,2451.7 889.8,2456.1 892.5,2461.0 895.5,2462.3 898.2,2457.2 901.1,2470.7 904.3,2472.0 907.4,2466.0 909.5,2455.7 911.5,2477.1 913.7,2458.5 916.6,2469.9 919.7,2465.3 922.4,2468.8 925.1,2464.7 927.6,2475.0 929.8,2476.1 932.1,2468.7 934.8,2477.1 937.8,2469.9 940.6,2477.2 943.7,2471.0 945.8,2477.5 948.2,2462.4 951.3,2479.4 954.2,2473.2 956.9,2475.1 959.2,2472.3 961.7,2486.5 964.5,2472.4 967.5,2478.8 970.5,2479.9 972.9,2481.2 975.0,2458.6 977.3,2481.4 979.5,2474.2 981.5,2484.8 983.6,2469.4 986.2,2486.2 988.9,2480.0 991.1,2485.6 994.2,2463.7 996.8,2487.5 999.3,2472.5 1002.3,2499.8 1004.5,2485.8 1006.5,2486.8 1009.3,2503.4 1011.9,2495.8 1014.8,2489.4 1017.3,2486.7 1020.2,2503.3 1022.3,2494.5 1025.0,2496.1 1028.2,2490.4 1030.8,2505.8 1033.6,2487.7 1036.5,2519.1 1038.5,2496.5 1041.6,2502.6 1044.8,2490.8 1046.9,2502.6 1048.9,2514.6 1051.7,2497.1 1054.2,2510.7 1057.0,2501.3 1059.8,2516.5 1062.7,2506.0 1065.6,2534.5 1068.1,2506.3 1070.4,2519.2 1073.6,2504.3 1075.7,2521.6 1077.9,2508.8 1080.4,2517.8 1083.1,2515.6 1085.9,2500.7 1088.7,2523.8 1091.5,2505.3 1093.7,2520.3 1096.8,2517.4 1099.4,2507.3 1101.4,2519.7 1103.9,2507.3 1106.3,2526.5 1109.1,2513.0 1111.6,2517.5 1114.8,2507.4 1117.6,2497.6 1119.7,2516.0 1122.3,2502.8 1125.1,2521.0 1128.0,2504.4 1130.9,2514.1 1133.5,2513.5 1136.5,2487.5 1139.0,2485.5 1141.4,2489.8 1143.9,2470.2 1146.9,2491.8 1149.9,2465.0 1152.6,2469.8 1155.6,2474.2 1157.7,2467.3 1159.8,2472.9 1162.1,2470.1 1164.7,2480.9 1167.5,2482.6 1170.4,2492.7 1173.2,2496.6 1176.2,2501.2 1179.0,2497.8 1181.5,2501.1 1183.7,2492.9 1186.1,2488.7 1189.0,2512.0 1191.7,2511.9 1194.0,2502.5 1196.3,2504.4 1198.7,2499.1 1201.2,2516.5 1203.9,2514.9 1206.2,2491.5 1208.8,2509.0 1212.0,2505.1 1214.4,2506.7 1217.1,2502.4 1220.2,2511.0 1223.4,2497.5 1225.4,2500.3 1228.4,2487.5 1230.9,2481.1 1234.0,2491.8 1236.1,2480.2 1238.7,2492.9 1241.1,2470.9 1243.7,2492.9 1246.2,2483.0 1249.0,2460.1 1251.7,2476.5 1254.6,2455.4 1257.3,2453.7 1259.7,2447.0 1262.1,2440.3 1265.0,2438.1 1267.1,2432.8 1269.3,2432.2 1271.6,2421.0 1274.1,2421.1 1276.9,2411.3 1279.3,2416.4 1282.2,2426.5 1285.0,2440.3 1287.8,2474.7 1290.4,2469.8 1293.4,2502.0 1296.0,2489.1 1298.9,2526.7 1301.7,2492.1 1304.5,2501.2 1306.9,2474.8 1309.6,2512.8 1311.9,2512.4 1314.0,2497.9 1317.1,2518.5 1319.2,2482.4 1322.3,2502.6 1324.8,2488.1 1326.8,2502.7 1329.5,2497.8 1331.8,2511.9 1334.0,2507.9 1336.6,2490.4 1339.5,2506.6 1342.5,2505.3 1345.6,2494.2 1348.1,2497.3 1351.1,2500.6 1354.1,2489.1 1356.7,2507.8 1359.3,2495.4 1361.4,2490.8 1364.2,2485.9 1367.1,2504.4 1369.2,2491.5 1371.2,2504.7 1373.6,2487.4 1376.0,2511.0 1379.1,2481.1 1381.6,2498.6 1384.8,2502.9 1387.3,2484.4 1390.5,2500.8 1392.6,2493.7 1394.9,2480.8 1398.1,2510.8 1400.4,2495.0 1403.2,2500.8 1406.0,2500.6 1409.1,2492.8 1411.9,2503.5 1414.6,2494.3 1416.9,2496.0 1419.8,2491.6 1422.5,2518.9 1425.4,2480.7 1428.0,2503.9 1430.7,2489.8 1433.4,2496.9 1435.6,2477.1 1437.8,2494.7 1440.1,2479.6 1442.8,2502.2 1445.5,2499.2 1447.5,2484.4 1450.5,2494.8 1453.2,2484.0 1455.2,2496.4 1457.9,2488.1 1460.1,2500.5 1463.1,2483.2 1465.3,2480.3 1468.2,2484.7 1470.3,2496.1 1472.4,2482.9 1475.6,2496.7 1477.9,2483.7 1481.0,2490.6 1484.2,2481.1 1486.3,2490.2 1489.3,2481.8 1492.3,2493.4 1494.6,2478.7 1496.9,2496.2 1499.4,2493.8 1501.8,2473.7 1504.3,2491.7 1506.8,2487.4 1509.1,2476.6 1512.0,2500.9 1514.0,2484.0 1516.4,2488.2 1518.5,2478.2 1520.5,2488.0 1523.2,2484.0 1526.0,2491.0 1528.3,2479.1 1530.6,2489.2 1532.8,2474.4 1535.8,2483.0 1538.6,2482.0 1541.8,2473.0 1544.5,2497.0 1546.9,2480.5 1549.1,2488.1 1551.4,2482.8 1553.9,2493.4 1556.7,2477.3 1559.2,2485.0 1561.9,2481.3 1564.2,2491.6 1566.5,2462.6 1569.2,2475.8 1572.2,2489.4 1574.6,2479.4 1577.1,2462.8 1579.7,2499.7 1582.0,2465.4 1584.0,2485.4 1586.8,2477.4 1589.4,2487.3 1592.5,2479.1 1595.3,2501.6 1597.9,2476.9 1600.3,2485.2 1602.7,2478.5 1604.8,2482.6 1607.0,2477.9 1609.5,2494.8 1612.1,2467.7 1615.0,2480.1 1617.9,2472.0 1620.6,2481.1 1623.5,2468.0 1626.4,2478.4 1629.5,2486.9 1632.0,2463.5 1634.0,2492.1 1636.4,2473.3 1638.4,2477.1 1640.9,2472.3 1643.3,2490.2 1646.5,2473.1 1648.7,2494.6 1651.0,2463.8 1653.2,2480.5 1655.4,2467.6 1658.5,2485.2 1661.1,2480.2 1663.6,2461.2 1665.7,2481.4 1668.8,2484.2 1671.3,2469.7 1673.5,2480.0 1676.4,2474.2 1679.5,2475.3 1682.5,2474.5 1685.5,2482.6 1687.6,2484.6 1690.7,2468.2 1693.0,2482.4 1695.4,2466.8 1697.7,2473.3 1700.6,2477.7 1703.3,2467.0 1705.8,2477.8 1708.3,2456.5 1711.3,2478.7 1713.5,2491.8 1716.0,2460.5 1718.8,2472.2 1722.0,2478.5 1724.4,2471.7 1727.4,2484.1 1730.1,2468.0 1732.9,2483.7 1735.2,2458.0 1737.7,2477.8 1740.8,2450.6 1743.2,2478.3 1745.7,2489.5 1748.0,2457.1 1751.1,2475.9 1753.2,2481.7 1755.5,2464.1 1757.7,2475.6 1759.8,2470.8 1762.8,2464.2 1765.4,2471.3 1767.6,2476.5 1770.6,2468.8 1773.6,2475.3 1775.7,2474.9 1778.6,2461.7 1781.1,2475.2 1783.4,2466.1 1785.6,2479.1 1788.8,2463.5 1791.0,2466.9 1793.4,2490.4 1795.9,2464.0 1799.0,2475.3 1801.3,2467.4 1804.3,2485.5 1807.4,2470.0 1809.5,2480.5 1812.0,2473.3 1814.3,2449.6 1816.6,2477.5 1819.4,2448.8 1821.5,2478.2 1823.9,2478.1 1825.9,2462.5 1828.3,2470.8 1831.4,2476.7 1834.2,2468.8 1836.3,2478.0 1839.5,2462.6 1841.7,2477.0 1844.4,2465.7 1847.4,2469.4 1849.4,2472.5 1852.5,2463.1 1854.6,2476.1 1857.2,2457.9 1859.6,2470.1 1862.1,2466.8 1864.6,2451.2 1866.8,2460.7 1869.8,2467.0 1871.9,2473.3 1874.0,2452.3 1876.4,2452.5 1878.5,2488.9 1880.9,2459.1 1883.6,2480.8 1886.0,2467.4 1888.6,2473.5 1891.1,2447.0 1893.7,2472.0 1895.9,2464.2 1898.8,2481.9 1901.9,2451.5 1904.6,2477.9 1907.4,2463.8 1910.3,2480.8 1912.6,2453.9 1914.9,2483.7 1917.9,2461.3 1920.7,2479.6 1922.8,2450.6 1924.8,2461.3 1927.5,2467.3 1930.7,2482.9 1933.2,2460.4 1935.3,2471.8 1937.4,2460.4 1939.6,2475.5 1942.7,2461.1 1945.3,2477.2 1947.9,2458.7 1951.0,2468.2 1953.5,2447.8 1955.7,2478.6 1958.4,2457.2 1960.9,2470.9 1964.1,2462.6 1966.9,2469.4 1969.0,2455.5 1971.7,2472.2 1974.8,2458.3 1977.0,2464.0 1979.0,2454.8 1981.2,2459.4 1984.1,2471.4 1986.9,2457.8 1989.6,2452.6 1992.7,2467.9 1995.8,2454.6" fill="none" stroke="#0000ff" stroke-width="8" stroke-linejoin="round" stroke-linecap="round" clip-path="url(#cb)"/>
<clipPath id="cb"><rect x="518.8" y="2039.0" width="1479.7" height="585.9"/></clipPath>
<text x="721.3" y="1163.5" font-size="56.5">4</text>
<text x="747.9" y="1194.6" font-size="82.0">I</text>
<text x="770.5" y="1216.2" font-size="53.0">9/2</text>
<text x="895.0" y="1161.0" font-size="56.5">4</text>
<text x="921.9" y="1193.3" font-size="82.0">I</text>
<text x="945.4" y="1213.5" font-size="53.0">11/2</text>
<text x="1248.5" y="1096.7" font-size="56.5">4</text>
<text x="1277.0" y="1127.8" font-size="82.0">I</text>
<text x="1302.1" y="1148.5" font-size="53.0">13/2</text>
<line x1="787.9" y1="1225.0" x2="787.9" y2="1280.9" stroke="#000" stroke-width="3.9" stroke-linecap="butt"/>
<polygon points="778.4,1278.9 797.4,1278.9 797.4,1283.7 789.5,1313.4 788.3,1319.0 787.5,1319.0 786.3,1313.4 778.4,1283.7" fill="#000"/>
<line x1="919.1" y1="1211.0" x2="919.1" y2="1267.0" stroke="#000" stroke-width="3.9" stroke-linecap="butt"/>
<polygon points="909.6,1265.0 928.6,1265.0 928.6,1270.1 920.7,1301.5 919.5,1307.4 918.7,1307.4 917.5,1301.5 909.6,1270.1" fill="#000"/>
<line x1="1324.2" y1="1157.0" x2="1324.2" y2="1224.4" stroke="#000" stroke-width="3.9" stroke-linecap="butt"/>
<polygon points="1314.7,1222.4 1333.7,1222.4 1333.7,1227.4 1325.8,1258.1 1324.6,1263.9 1323.8,1263.9 1322.6,1258.1 1314.7,1227.4" fill="#000"/>
<text x="510.2" y="291.7" font-size="56.5">4</text>
<text x="540.9" y="324.0" font-size="82.0">G</text>
<text x="603.3" y="345.0" font-size="53.0">9/2</text>
<text x="678.2" y="323.8" font-size="82.0">+</text>
<text x="722.6" y="291.7" font-size="56.5">2</text>
<text x="752.5" y="323.9" font-size="82.0">K</text>
<text x="809.2" y="344.7" font-size="53.0">15/2</text>
<text x="911.8" y="323.8" font-size="82.0">+</text>
<text x="955.9" y="291.2" font-size="56.5">2</text>
<text x="986.7" y="324.0" font-size="82.0">G</text>
<text x="1049.3" y="344.7" font-size="53.0">7/2</text>
<line x1="547.7" y1="332.1" x2="547.7" y2="636.7" stroke="#000" stroke-width="3.9" stroke-linecap="butt"/>
<polygon points="541.0,634.7 554.4,634.7 554.4,637.9 549.3,657.7 548.1,661.4 547.3,661.4 546.1,657.7 541.0,637.9" fill="#000"/>
<text x="587.4" y="431.0" font-size="56.5">4</text>
<text x="617.7" y="462.8" font-size="82.0">G</text>
<text x="681.5" y="484.6" font-size="53.0">11/2</text>
<text x="675.0" y="667.6" font-size="56.5">2</text>
<text x="705.8" y="699.2" font-size="82.0">H</text>
<text x="764.0" y="720.7" font-size="53.0">9/2</text>
<text x="860.6" y="670.8" font-size="56.5">4</text>
<text x="890.3" y="703.9" font-size="82.0">F</text>
<text x="939.6" y="724.7" font-size="53.0">5/2</text>
<text x="1016.2" y="624.1" font-size="56.5">4</text>
<text x="1043.8" y="657.2" font-size="82.0">F</text>
<text x="1096.4" y="678.1" font-size="53.0">7/2</text>
<text x="1133.3" y="482.2" font-size="56.5">2</text>
<text x="1162.4" y="515.3" font-size="82.0">H</text>
<text x="1221.5" y="536.2" font-size="53.0">11/2</text>
<text x="1293.4" y="668.9" font-size="56.5">4</text>
<text x="1321.8" y="702.3" font-size="82.0">S</text>
<text x="1377.1" y="724.7" font-size="53.0">3/2</text>
<text x="1690.0" y="649.9" font-size="56.5">4</text>
<text x="1718.5" y="683.8" font-size="82.0">F</text>
<text x="1769.0" y="704.7" font-size="53.0">9/2</text>
<text x="1032.5" y="2230.4" font-size="56.5">6</text>
<text x="1063.5" y="2264.6" font-size="82.0">P</text>
<text x="1116.9" y="2285.8" font-size="53.0">5/2</text>
<text x="1220.6" y="2104.2" font-size="56.5">6</text>
<text x="1251.0" y="2137.2" font-size="82.0">P</text>
<text x="1305.7" y="2158.1" font-size="53.0">7/2</text>
<line x1="1166.0" y1="2330.4" x2="1166.0" y2="2397.7" stroke="#000" stroke-width="3.9" stroke-linecap="butt"/>
<polygon points="1156.5,2395.7 1175.5,2395.7 1175.5,2400.6 1167.6,2430.9 1166.4,2436.6 1165.6,2436.6 1164.4,2430.9 1156.5,2400.6" fill="#000"/>
<line x1="1275.7" y1="2188.9" x2="1275.7" y2="2350.1" stroke="#000" stroke-width="3.9" stroke-linecap="butt"/>
<polygon points="1266.2,2348.1 1285.2,2348.1 1285.2,2353.2 1277.3,2384.4 1276.1,2390.3 1275.3,2390.3 1274.1,2384.4 1266.2,2353.2" fill="#000"/>
<polyline points="456,1066.8 456,1018.7 720.6,1018.7 720.6,1066.8" fill="none" stroke="#000" stroke-width="3.7" stroke-linejoin="round" stroke-linecap="round"/>
<line x1="599.4" y1="1001.7" x2="848.0" y2="912.0" stroke="#000" stroke-width="3.5" stroke-linecap="round"/>
<polygon points="884.5,898.1 843.1,903.3 850.6,920.4" fill="#000"/>
</svg>
</body></html>
